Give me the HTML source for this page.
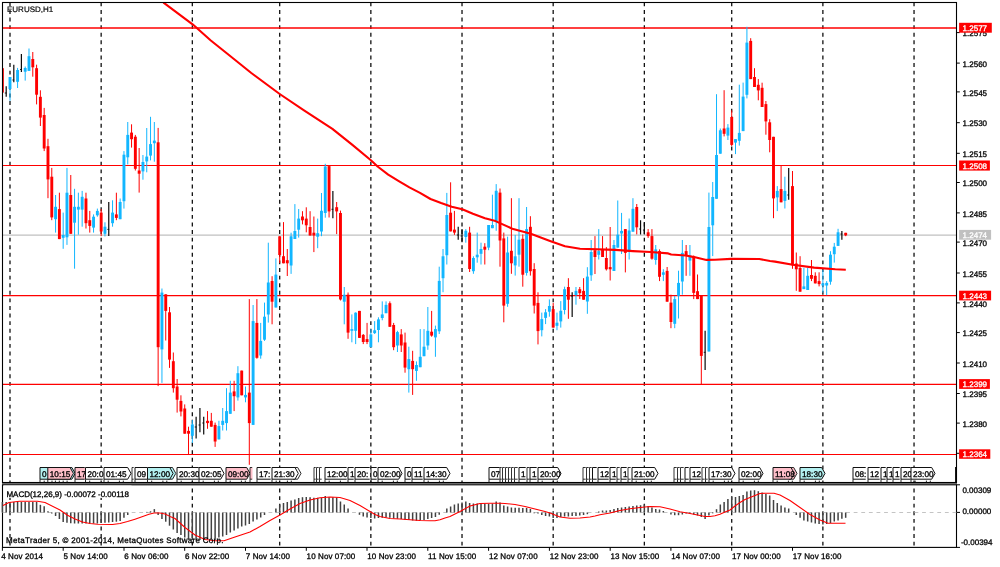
<!DOCTYPE html>
<html><head><meta charset="utf-8"><title>EURUSD,H1</title>
<style>
html,body{margin:0;padding:0;background:#fff;}
body{width:1000px;height:567px;overflow:hidden;position:relative;font-family:"Liberation Sans",sans-serif;}
.t{font-family:"Liberation Sans",sans-serif;text-rendering:geometricPrecision;}
</style></head><body>
<svg width="1000" height="567" viewBox="0 0 1000 567" style="display:block;position:absolute;left:0;top:0;will-change:transform">
<rect x="0" y="0" width="1000" height="567" fill="#fff"/>
<defs><clipPath id="cm"><rect x="2.5" y="2.5" width="954.0" height="480.0"/></clipPath></defs>
<line x1="10.00" y1="2.4" x2="10.00" y2="482.5" stroke="#111" stroke-width="1.3" stroke-dasharray="3.9 3.69" stroke-dashoffset="0"/>
<line x1="10.00" y1="484.8" x2="10.00" y2="547.4" stroke="#111" stroke-width="1.3" stroke-dasharray="3.9 3.69" stroke-dashoffset="3.85"/>
<line x1="101.16" y1="2.4" x2="101.16" y2="482.5" stroke="#111" stroke-width="1.3" stroke-dasharray="3.9 3.69" stroke-dashoffset="0"/>
<line x1="101.16" y1="484.8" x2="101.16" y2="547.4" stroke="#111" stroke-width="1.3" stroke-dasharray="3.9 3.69" stroke-dashoffset="3.85"/>
<line x1="192.33" y1="2.4" x2="192.33" y2="482.5" stroke="#111" stroke-width="1.3" stroke-dasharray="3.9 3.69" stroke-dashoffset="0"/>
<line x1="192.33" y1="484.8" x2="192.33" y2="547.4" stroke="#111" stroke-width="1.3" stroke-dasharray="3.9 3.69" stroke-dashoffset="3.85"/>
<line x1="279.69" y1="2.4" x2="279.69" y2="482.5" stroke="#111" stroke-width="1.3" stroke-dasharray="3.9 3.69" stroke-dashoffset="0"/>
<line x1="279.69" y1="484.8" x2="279.69" y2="547.4" stroke="#111" stroke-width="1.3" stroke-dasharray="3.9 3.69" stroke-dashoffset="3.85"/>
<line x1="370.85" y1="2.4" x2="370.85" y2="482.5" stroke="#111" stroke-width="1.3" stroke-dasharray="3.9 3.69" stroke-dashoffset="0"/>
<line x1="370.85" y1="484.8" x2="370.85" y2="547.4" stroke="#111" stroke-width="1.3" stroke-dasharray="3.9 3.69" stroke-dashoffset="3.85"/>
<line x1="462.02" y1="2.4" x2="462.02" y2="482.5" stroke="#111" stroke-width="1.3" stroke-dasharray="3.9 3.69" stroke-dashoffset="0"/>
<line x1="462.02" y1="484.8" x2="462.02" y2="547.4" stroke="#111" stroke-width="1.3" stroke-dasharray="3.9 3.69" stroke-dashoffset="3.85"/>
<line x1="553.18" y1="2.4" x2="553.18" y2="482.5" stroke="#111" stroke-width="1.3" stroke-dasharray="3.9 3.69" stroke-dashoffset="0"/>
<line x1="553.18" y1="484.8" x2="553.18" y2="547.4" stroke="#111" stroke-width="1.3" stroke-dasharray="3.9 3.69" stroke-dashoffset="3.85"/>
<line x1="644.35" y1="2.4" x2="644.35" y2="482.5" stroke="#111" stroke-width="1.3" stroke-dasharray="3.9 3.69" stroke-dashoffset="0"/>
<line x1="644.35" y1="484.8" x2="644.35" y2="547.4" stroke="#111" stroke-width="1.3" stroke-dasharray="3.9 3.69" stroke-dashoffset="3.85"/>
<line x1="731.71" y1="2.4" x2="731.71" y2="482.5" stroke="#111" stroke-width="1.3" stroke-dasharray="3.9 3.69" stroke-dashoffset="0"/>
<line x1="731.71" y1="484.8" x2="731.71" y2="547.4" stroke="#111" stroke-width="1.3" stroke-dasharray="3.9 3.69" stroke-dashoffset="3.85"/>
<line x1="822.88" y1="2.4" x2="822.88" y2="482.5" stroke="#111" stroke-width="1.3" stroke-dasharray="3.9 3.69" stroke-dashoffset="0"/>
<line x1="822.88" y1="484.8" x2="822.88" y2="547.4" stroke="#111" stroke-width="1.3" stroke-dasharray="3.9 3.69" stroke-dashoffset="3.85"/>
<line x1="914.04" y1="2.4" x2="914.04" y2="482.5" stroke="#111" stroke-width="1.3" stroke-dasharray="3.9 3.69" stroke-dashoffset="0"/>
<line x1="914.04" y1="484.8" x2="914.04" y2="547.4" stroke="#111" stroke-width="1.3" stroke-dasharray="3.9 3.69" stroke-dashoffset="3.85"/>
<line x1="2.5" y1="235.1" x2="956.5" y2="235.1" stroke="#c0c0c0" stroke-width="1.2"/>
<line x1="2.5" y1="28.00" x2="956.5" y2="28.00" stroke="#ff0000" stroke-width="1.30"/>
<line x1="2.5" y1="165.55" x2="956.5" y2="165.55" stroke="#ff0000" stroke-width="1.10"/>
<line x1="2.5" y1="295.60" x2="956.5" y2="295.60" stroke="#ff0000" stroke-width="1.15"/>
<line x1="2.5" y1="384.30" x2="956.5" y2="384.30" stroke="#ff0000" stroke-width="1.15"/>
<line x1="2.5" y1="454.50" x2="956.5" y2="454.50" stroke="#ff0000" stroke-width="1.00"/>
<g clip-path="url(#cm)">
<line x1="2.40" y1="68.2" x2="2.40" y2="92.6" stroke="#ff0000" stroke-width="1.00"/>
<rect x="0.95" y="68.2" width="2.90" height="24.4" fill="#ff0000"/>
<line x1="6.20" y1="86.2" x2="6.20" y2="96.8" stroke="#0a0a0a" stroke-width="1.2"/>
<line x1="4.80" y1="93.0" x2="6.60" y2="93.0" stroke="#0a0a0a" stroke-width="0.9"/>
<line x1="10.00" y1="77.0" x2="10.00" y2="100.8" stroke="#12b6ff" stroke-width="1.00"/>
<rect x="8.55" y="77.0" width="2.90" height="12.0" fill="#12b6ff"/>
<line x1="13.80" y1="64.7" x2="13.80" y2="82.3" stroke="#0a0a0a" stroke-width="1.2"/>
<line x1="12.40" y1="80.0" x2="14.20" y2="80.0" stroke="#0a0a0a" stroke-width="0.9"/>
<line x1="17.59" y1="67.9" x2="17.59" y2="88.0" stroke="#12b6ff" stroke-width="1.00"/>
<rect x="16.14" y="70.0" width="2.90" height="11.8" fill="#12b6ff"/>
<line x1="21.39" y1="54.1" x2="21.39" y2="72.1" stroke="#0a0a0a" stroke-width="1.2"/>
<line x1="19.99" y1="69.5" x2="21.79" y2="69.5" stroke="#0a0a0a" stroke-width="0.9"/>
<line x1="25.19" y1="66.5" x2="25.19" y2="80.6" stroke="#12b6ff" stroke-width="1.00"/>
<rect x="23.74" y="68.0" width="2.90" height="3.7" fill="#12b6ff"/>
<line x1="28.99" y1="48.5" x2="28.99" y2="70.9" stroke="#12b6ff" stroke-width="1.00"/>
<rect x="27.54" y="56.2" width="2.90" height="14.7" fill="#12b6ff"/>
<line x1="32.79" y1="52.0" x2="32.79" y2="76.7" stroke="#ff0000" stroke-width="1.00"/>
<rect x="31.34" y="59.0" width="2.90" height="8.3" fill="#ff0000"/>
<line x1="36.59" y1="64.7" x2="36.59" y2="104.4" stroke="#ff0000" stroke-width="1.00"/>
<rect x="35.14" y="68.2" width="2.90" height="26.5" fill="#ff0000"/>
<line x1="40.38" y1="90.3" x2="40.38" y2="126.0" stroke="#ff0000" stroke-width="1.00"/>
<rect x="38.93" y="96.8" width="2.90" height="20.8" fill="#ff0000"/>
<line x1="44.18" y1="107.9" x2="44.18" y2="151.1" stroke="#ff0000" stroke-width="1.00"/>
<rect x="42.73" y="115.0" width="2.90" height="33.5" fill="#ff0000"/>
<line x1="47.98" y1="138.8" x2="47.98" y2="198.2" stroke="#ff0000" stroke-width="1.00"/>
<rect x="46.53" y="146.2" width="2.90" height="33.2" fill="#ff0000"/>
<line x1="51.78" y1="167.9" x2="51.78" y2="220.2" stroke="#ff0000" stroke-width="1.00"/>
<rect x="50.33" y="176.7" width="2.90" height="40.7" fill="#ff0000"/>
<line x1="55.58" y1="195.0" x2="55.58" y2="232.6" stroke="#12b6ff" stroke-width="1.00"/>
<rect x="54.13" y="206.8" width="2.90" height="12.4" fill="#12b6ff"/>
<line x1="59.38" y1="192.7" x2="59.38" y2="239.1" stroke="#ff0000" stroke-width="1.00"/>
<rect x="57.93" y="209.1" width="2.90" height="30.0" fill="#ff0000"/>
<line x1="63.18" y1="212.6" x2="63.18" y2="248.8" stroke="#12b6ff" stroke-width="1.00"/>
<rect x="61.73" y="235.0" width="2.90" height="2.8" fill="#12b6ff"/>
<line x1="66.97" y1="167.9" x2="66.97" y2="244.9" stroke="#12b6ff" stroke-width="1.00"/>
<rect x="65.52" y="192.7" width="2.90" height="44.6" fill="#12b6ff"/>
<line x1="70.77" y1="175.0" x2="70.77" y2="233.8" stroke="#ff0000" stroke-width="1.00"/>
<rect x="69.32" y="195.0" width="2.90" height="38.8" fill="#ff0000"/>
<line x1="74.57" y1="188.8" x2="74.57" y2="268.7" stroke="#12b6ff" stroke-width="1.00"/>
<rect x="73.12" y="206.8" width="2.90" height="15.9" fill="#12b6ff"/>
<line x1="78.37" y1="192.7" x2="78.37" y2="234.7" stroke="#12b6ff" stroke-width="1.00"/>
<rect x="76.92" y="206.8" width="2.90" height="2.8" fill="#12b6ff"/>
<line x1="82.17" y1="190.9" x2="82.17" y2="226.7" stroke="#12b6ff" stroke-width="1.00"/>
<rect x="80.72" y="196.8" width="2.90" height="12.8" fill="#12b6ff"/>
<line x1="85.97" y1="192.7" x2="85.97" y2="228.5" stroke="#ff0000" stroke-width="1.00"/>
<rect x="84.52" y="198.5" width="2.90" height="24.7" fill="#ff0000"/>
<line x1="89.77" y1="210.9" x2="89.77" y2="232.6" stroke="#ff0000" stroke-width="1.00"/>
<rect x="88.32" y="220.2" width="2.90" height="5.7" fill="#ff0000"/>
<line x1="93.56" y1="214.4" x2="93.56" y2="232.6" stroke="#12b6ff" stroke-width="1.00"/>
<rect x="92.11" y="216.7" width="2.90" height="10.9" fill="#12b6ff"/>
<line x1="97.36" y1="208.6" x2="97.36" y2="216.7" stroke="#12b6ff" stroke-width="1.00"/>
<rect x="95.91" y="210.9" width="2.90" height="4.4" fill="#12b6ff"/>
<line x1="101.16" y1="209.1" x2="101.16" y2="236.1" stroke="#ff0000" stroke-width="1.00"/>
<rect x="99.71" y="212.6" width="2.90" height="18.9" fill="#ff0000"/>
<line x1="104.96" y1="222.3" x2="104.96" y2="236.4" stroke="#12b6ff" stroke-width="1.00"/>
<rect x="103.51" y="226.7" width="2.90" height="7.1" fill="#12b6ff"/>
<line x1="108.76" y1="202.0" x2="108.76" y2="236.1" stroke="#0a0a0a" stroke-width="1.2"/>
<line x1="107.36" y1="229.4" x2="109.16" y2="229.4" stroke="#0a0a0a" stroke-width="0.9"/>
<line x1="112.56" y1="200.3" x2="112.56" y2="226.7" stroke="#12b6ff" stroke-width="1.00"/>
<rect x="111.11" y="212.6" width="2.90" height="10.6" fill="#12b6ff"/>
<line x1="116.36" y1="192.7" x2="116.36" y2="220.2" stroke="#ff0000" stroke-width="1.00"/>
<rect x="114.91" y="214.4" width="2.90" height="3.5" fill="#ff0000"/>
<line x1="120.15" y1="198.5" x2="120.15" y2="219.2" stroke="#12b6ff" stroke-width="1.00"/>
<rect x="118.70" y="202.0" width="2.90" height="17.2" fill="#12b6ff"/>
<line x1="123.95" y1="151.1" x2="123.95" y2="208.6" stroke="#12b6ff" stroke-width="1.00"/>
<rect x="122.50" y="154.7" width="2.90" height="46.5" fill="#12b6ff"/>
<line x1="127.75" y1="122.0" x2="127.75" y2="164.4" stroke="#12b6ff" stroke-width="1.00"/>
<rect x="126.30" y="134.9" width="2.90" height="22.4" fill="#12b6ff"/>
<line x1="131.55" y1="124.3" x2="131.55" y2="147.6" stroke="#ff0000" stroke-width="1.00"/>
<rect x="130.10" y="132.6" width="2.90" height="6.6" fill="#ff0000"/>
<line x1="135.35" y1="134.9" x2="135.35" y2="170.5" stroke="#ff0000" stroke-width="1.00"/>
<rect x="133.90" y="136.7" width="2.90" height="32.1" fill="#ff0000"/>
<line x1="139.15" y1="148.0" x2="139.15" y2="192.6" stroke="#ff0000" stroke-width="1.00"/>
<rect x="137.70" y="170.5" width="2.90" height="3.2" fill="#ff0000"/>
<line x1="142.94" y1="155.0" x2="142.94" y2="179.7" stroke="#12b6ff" stroke-width="1.00"/>
<rect x="141.49" y="162.0" width="2.90" height="9.4" fill="#12b6ff"/>
<line x1="146.74" y1="128.0" x2="146.74" y2="172.3" stroke="#12b6ff" stroke-width="1.00"/>
<rect x="145.29" y="156.6" width="2.90" height="4.8" fill="#12b6ff"/>
<line x1="150.54" y1="116.8" x2="150.54" y2="160.4" stroke="#12b6ff" stroke-width="1.00"/>
<rect x="149.09" y="144.1" width="2.90" height="11.5" fill="#12b6ff"/>
<line x1="154.34" y1="122.0" x2="154.34" y2="161.7" stroke="#12b6ff" stroke-width="1.00"/>
<rect x="152.89" y="140.6" width="2.90" height="2.6" fill="#12b6ff"/>
<line x1="158.14" y1="127.9" x2="158.14" y2="386.1" stroke="#ff0000" stroke-width="1.00"/>
<rect x="156.69" y="142.3" width="2.90" height="204.9" fill="#ff0000"/>
<line x1="161.94" y1="288.5" x2="161.94" y2="382.9" stroke="#12b6ff" stroke-width="1.00"/>
<rect x="160.49" y="292.6" width="2.90" height="56.8" fill="#12b6ff"/>
<line x1="165.74" y1="294.3" x2="165.74" y2="340.5" stroke="#ff0000" stroke-width="1.00"/>
<rect x="164.29" y="294.3" width="2.90" height="16.6" fill="#ff0000"/>
<line x1="169.53" y1="307.0" x2="169.53" y2="367.9" stroke="#ff0000" stroke-width="1.00"/>
<rect x="168.08" y="312.3" width="2.90" height="47.3" fill="#ff0000"/>
<line x1="173.33" y1="352.5" x2="173.33" y2="392.6" stroke="#ff0000" stroke-width="1.00"/>
<rect x="171.88" y="361.2" width="2.90" height="27.0" fill="#ff0000"/>
<line x1="177.13" y1="379.0" x2="177.13" y2="412.6" stroke="#ff0000" stroke-width="1.00"/>
<rect x="175.68" y="386.5" width="2.90" height="13.2" fill="#ff0000"/>
<line x1="180.93" y1="395.3" x2="180.93" y2="416.4" stroke="#ff0000" stroke-width="1.00"/>
<rect x="179.48" y="400.9" width="2.90" height="10.6" fill="#ff0000"/>
<line x1="184.73" y1="404.4" x2="184.73" y2="433.7" stroke="#ff0000" stroke-width="1.00"/>
<rect x="183.28" y="408.5" width="2.90" height="25.2" fill="#ff0000"/>
<line x1="188.53" y1="426.7" x2="188.53" y2="454.4" stroke="#ff0000" stroke-width="1.00"/>
<rect x="187.08" y="430.9" width="2.90" height="2.8" fill="#ff0000"/>
<line x1="192.33" y1="420.0" x2="192.33" y2="442.9" stroke="#12b6ff" stroke-width="1.00"/>
<rect x="190.88" y="424.4" width="2.90" height="11.4" fill="#12b6ff"/>
<line x1="196.12" y1="416.8" x2="196.12" y2="438.5" stroke="#0a0a0a" stroke-width="1.2"/>
<line x1="194.72" y1="427.0" x2="196.52" y2="427.0" stroke="#0a0a0a" stroke-width="0.9"/>
<line x1="199.92" y1="408.0" x2="199.92" y2="432.3" stroke="#0a0a0a" stroke-width="1.2"/>
<line x1="198.52" y1="425.0" x2="200.32" y2="425.0" stroke="#0a0a0a" stroke-width="0.9"/>
<line x1="203.72" y1="416.8" x2="203.72" y2="434.4" stroke="#0a0a0a" stroke-width="1.2"/>
<line x1="202.32" y1="423.0" x2="204.12" y2="423.0" stroke="#0a0a0a" stroke-width="0.9"/>
<line x1="207.52" y1="411.1" x2="207.52" y2="428.8" stroke="#ff0000" stroke-width="1.00"/>
<rect x="206.07" y="420.8" width="2.90" height="2.3" fill="#ff0000"/>
<line x1="211.32" y1="412.9" x2="211.32" y2="426.7" stroke="#ff0000" stroke-width="1.00"/>
<rect x="209.87" y="420.8" width="2.90" height="5.9" fill="#ff0000"/>
<line x1="215.12" y1="422.6" x2="215.12" y2="446.9" stroke="#ff0000" stroke-width="1.00"/>
<rect x="213.67" y="424.9" width="2.90" height="16.6" fill="#ff0000"/>
<line x1="218.91" y1="420.8" x2="218.91" y2="439.4" stroke="#12b6ff" stroke-width="1.00"/>
<rect x="217.46" y="426.1" width="2.90" height="13.3" fill="#12b6ff"/>
<line x1="222.71" y1="408.0" x2="222.71" y2="430.5" stroke="#12b6ff" stroke-width="1.00"/>
<rect x="221.26" y="420.8" width="2.90" height="4.1" fill="#12b6ff"/>
<line x1="226.51" y1="388.2" x2="226.51" y2="430.5" stroke="#12b6ff" stroke-width="1.00"/>
<rect x="225.06" y="411.1" width="2.90" height="12.0" fill="#12b6ff"/>
<line x1="230.31" y1="380.8" x2="230.31" y2="413.8" stroke="#12b6ff" stroke-width="1.00"/>
<rect x="228.86" y="392.6" width="2.90" height="21.2" fill="#12b6ff"/>
<line x1="234.11" y1="380.8" x2="234.11" y2="411.1" stroke="#ff0000" stroke-width="1.00"/>
<rect x="232.66" y="391.4" width="2.90" height="4.8" fill="#ff0000"/>
<line x1="237.91" y1="366.2" x2="237.91" y2="400.6" stroke="#12b6ff" stroke-width="1.00"/>
<rect x="236.46" y="373.2" width="2.90" height="24.2" fill="#12b6ff"/>
<line x1="241.71" y1="370.6" x2="241.71" y2="395.3" stroke="#ff0000" stroke-width="1.00"/>
<rect x="240.26" y="370.6" width="2.90" height="24.7" fill="#ff0000"/>
<line x1="245.50" y1="386.5" x2="245.50" y2="402.3" stroke="#12b6ff" stroke-width="1.00"/>
<rect x="244.05" y="394.9" width="2.90" height="2.5" fill="#12b6ff"/>
<line x1="249.30" y1="299.1" x2="249.30" y2="464.8" stroke="#ff0000" stroke-width="1.00"/>
<rect x="247.85" y="392.6" width="2.90" height="30.5" fill="#ff0000"/>
<line x1="253.10" y1="305.0" x2="253.10" y2="424.9" stroke="#12b6ff" stroke-width="1.00"/>
<rect x="251.65" y="321.1" width="2.90" height="103.8" fill="#12b6ff"/>
<line x1="256.90" y1="299.1" x2="256.90" y2="358.7" stroke="#ff0000" stroke-width="1.00"/>
<rect x="255.45" y="322.9" width="2.90" height="34.9" fill="#ff0000"/>
<line x1="260.70" y1="322.9" x2="260.70" y2="358.7" stroke="#12b6ff" stroke-width="1.00"/>
<rect x="259.25" y="340.9" width="2.90" height="14.6" fill="#12b6ff"/>
<line x1="264.50" y1="302.6" x2="264.50" y2="340.9" stroke="#12b6ff" stroke-width="1.00"/>
<rect x="263.05" y="316.7" width="2.90" height="23.0" fill="#12b6ff"/>
<line x1="268.30" y1="242.7" x2="268.30" y2="322.6" stroke="#12b6ff" stroke-width="1.00"/>
<rect x="266.85" y="282.5" width="2.90" height="32.0" fill="#12b6ff"/>
<line x1="272.09" y1="276.2" x2="272.09" y2="324.3" stroke="#ff0000" stroke-width="1.00"/>
<rect x="270.64" y="281.0" width="2.90" height="20.7" fill="#ff0000"/>
<line x1="275.89" y1="258.4" x2="275.89" y2="307.5" stroke="#12b6ff" stroke-width="1.00"/>
<rect x="274.44" y="274.6" width="2.90" height="32.9" fill="#12b6ff"/>
<line x1="279.69" y1="236.2" x2="279.69" y2="263.0" stroke="#ff0000" stroke-width="1.00"/>
<rect x="278.24" y="236.3" width="2.90" height="18.7" fill="#ff0000"/>
<line x1="283.49" y1="222.1" x2="283.49" y2="263.3" stroke="#ff0000" stroke-width="1.00"/>
<rect x="282.04" y="256.2" width="2.90" height="7.1" fill="#ff0000"/>
<line x1="287.29" y1="249.0" x2="287.29" y2="276.0" stroke="#ff0000" stroke-width="1.00"/>
<rect x="285.84" y="260.2" width="2.90" height="3.1" fill="#ff0000"/>
<line x1="291.09" y1="232.7" x2="291.09" y2="273.9" stroke="#12b6ff" stroke-width="1.00"/>
<rect x="289.64" y="236.3" width="2.90" height="29.2" fill="#12b6ff"/>
<line x1="294.88" y1="204.1" x2="294.88" y2="239.0" stroke="#12b6ff" stroke-width="1.00"/>
<rect x="293.43" y="231.0" width="2.90" height="8.0" fill="#12b6ff"/>
<line x1="298.68" y1="209.0" x2="298.68" y2="237.6" stroke="#12b6ff" stroke-width="1.00"/>
<rect x="297.23" y="218.6" width="2.90" height="11.1" fill="#12b6ff"/>
<line x1="302.48" y1="211.2" x2="302.48" y2="224.4" stroke="#ff0000" stroke-width="1.00"/>
<rect x="301.03" y="216.5" width="2.90" height="3.8" fill="#ff0000"/>
<line x1="306.28" y1="207.3" x2="306.28" y2="232.3" stroke="#ff0000" stroke-width="1.00"/>
<rect x="304.83" y="218.6" width="2.90" height="6.7" fill="#ff0000"/>
<line x1="310.08" y1="211.2" x2="310.08" y2="235.5" stroke="#ff0000" stroke-width="1.00"/>
<rect x="308.63" y="227.0" width="2.90" height="8.5" fill="#ff0000"/>
<line x1="313.88" y1="216.5" x2="313.88" y2="252.1" stroke="#ff0000" stroke-width="1.00"/>
<rect x="312.43" y="232.7" width="2.90" height="2.8" fill="#ff0000"/>
<line x1="317.68" y1="218.6" x2="317.68" y2="248.2" stroke="#12b6ff" stroke-width="1.00"/>
<rect x="316.23" y="233.2" width="2.90" height="3.5" fill="#12b6ff"/>
<line x1="321.47" y1="193.0" x2="321.47" y2="236.2" stroke="#12b6ff" stroke-width="1.00"/>
<rect x="320.02" y="210.8" width="2.90" height="20.7" fill="#12b6ff"/>
<line x1="325.27" y1="163.8" x2="325.27" y2="217.7" stroke="#12b6ff" stroke-width="1.00"/>
<rect x="323.82" y="166.5" width="2.90" height="46.5" fill="#12b6ff"/>
<line x1="329.07" y1="166.1" x2="329.07" y2="217.5" stroke="#ff0000" stroke-width="1.00"/>
<rect x="327.62" y="166.1" width="2.90" height="45.3" fill="#ff0000"/>
<line x1="332.87" y1="191.0" x2="332.87" y2="218.2" stroke="#0a0a0a" stroke-width="1.2"/>
<line x1="331.47" y1="209.3" x2="333.27" y2="209.3" stroke="#0a0a0a" stroke-width="0.9"/>
<line x1="336.67" y1="202.0" x2="336.67" y2="234.1" stroke="#ff0000" stroke-width="1.00"/>
<rect x="335.22" y="207.2" width="2.90" height="4.2" fill="#ff0000"/>
<line x1="340.47" y1="210.6" x2="340.47" y2="300.5" stroke="#ff0000" stroke-width="1.00"/>
<rect x="339.02" y="213.0" width="2.90" height="86.5" fill="#ff0000"/>
<line x1="344.26" y1="287.0" x2="344.26" y2="324.3" stroke="#12b6ff" stroke-width="1.00"/>
<rect x="342.81" y="294.7" width="2.90" height="7.0" fill="#12b6ff"/>
<line x1="348.06" y1="292.5" x2="348.06" y2="338.8" stroke="#ff0000" stroke-width="1.00"/>
<rect x="346.61" y="294.7" width="2.90" height="37.9" fill="#ff0000"/>
<line x1="351.86" y1="314.4" x2="351.86" y2="342.3" stroke="#12b6ff" stroke-width="1.00"/>
<rect x="350.41" y="329.1" width="2.90" height="1.7" fill="#12b6ff"/>
<line x1="355.66" y1="312.3" x2="355.66" y2="344.1" stroke="#12b6ff" stroke-width="1.00"/>
<rect x="354.21" y="312.7" width="2.90" height="18.1" fill="#12b6ff"/>
<line x1="359.46" y1="310.9" x2="359.46" y2="337.9" stroke="#ff0000" stroke-width="1.00"/>
<rect x="358.01" y="310.9" width="2.90" height="27.0" fill="#ff0000"/>
<line x1="363.26" y1="334.0" x2="363.26" y2="344.1" stroke="#ff0000" stroke-width="1.00"/>
<rect x="361.81" y="334.9" width="2.90" height="7.1" fill="#ff0000"/>
<line x1="367.06" y1="322.9" x2="367.06" y2="344.1" stroke="#ff0000" stroke-width="1.00"/>
<rect x="365.61" y="339.1" width="2.90" height="2.9" fill="#ff0000"/>
<line x1="370.85" y1="329.1" x2="370.85" y2="347.2" stroke="#12b6ff" stroke-width="1.00"/>
<rect x="369.40" y="334.4" width="2.90" height="12.8" fill="#12b6ff"/>
<line x1="374.65" y1="321.1" x2="374.65" y2="334.0" stroke="#12b6ff" stroke-width="1.00"/>
<rect x="373.20" y="330.3" width="2.90" height="2.8" fill="#12b6ff"/>
<line x1="378.45" y1="317.3" x2="378.45" y2="342.3" stroke="#12b6ff" stroke-width="1.00"/>
<rect x="377.00" y="319.4" width="2.90" height="10.6" fill="#12b6ff"/>
<line x1="382.25" y1="301.4" x2="382.25" y2="320.3" stroke="#12b6ff" stroke-width="1.00"/>
<rect x="380.80" y="314.4" width="2.90" height="3.6" fill="#12b6ff"/>
<line x1="386.05" y1="301.4" x2="386.05" y2="313.2" stroke="#12b6ff" stroke-width="1.00"/>
<rect x="384.60" y="304.9" width="2.90" height="8.3" fill="#12b6ff"/>
<line x1="389.85" y1="301.4" x2="389.85" y2="326.8" stroke="#ff0000" stroke-width="1.00"/>
<rect x="388.40" y="303.2" width="2.90" height="23.6" fill="#ff0000"/>
<line x1="393.65" y1="322.9" x2="393.65" y2="350.2" stroke="#ff0000" stroke-width="1.00"/>
<rect x="392.20" y="325.0" width="2.90" height="22.2" fill="#ff0000"/>
<line x1="397.44" y1="330.8" x2="397.44" y2="352.0" stroke="#12b6ff" stroke-width="1.00"/>
<rect x="395.99" y="332.1" width="2.90" height="13.4" fill="#12b6ff"/>
<line x1="401.24" y1="329.1" x2="401.24" y2="352.0" stroke="#ff0000" stroke-width="1.00"/>
<rect x="399.79" y="334.4" width="2.90" height="11.1" fill="#ff0000"/>
<line x1="405.04" y1="332.6" x2="405.04" y2="372.7" stroke="#ff0000" stroke-width="1.00"/>
<rect x="403.59" y="342.5" width="2.90" height="25.1" fill="#ff0000"/>
<line x1="408.84" y1="346.7" x2="408.84" y2="392.6" stroke="#12b6ff" stroke-width="1.00"/>
<rect x="407.39" y="359.1" width="2.90" height="10.1" fill="#12b6ff"/>
<line x1="412.64" y1="350.8" x2="412.64" y2="394.9" stroke="#ff0000" stroke-width="1.00"/>
<rect x="411.19" y="360.9" width="2.90" height="8.3" fill="#ff0000"/>
<line x1="416.44" y1="361.4" x2="416.44" y2="380.8" stroke="#12b6ff" stroke-width="1.00"/>
<rect x="414.99" y="365.0" width="2.90" height="5.9" fill="#12b6ff"/>
<line x1="420.24" y1="329.1" x2="420.24" y2="367.2" stroke="#12b6ff" stroke-width="1.00"/>
<rect x="418.79" y="356.8" width="2.90" height="10.4" fill="#12b6ff"/>
<line x1="424.03" y1="329.1" x2="424.03" y2="356.2" stroke="#12b6ff" stroke-width="1.00"/>
<rect x="422.58" y="346.7" width="2.90" height="9.5" fill="#12b6ff"/>
<line x1="427.83" y1="307.0" x2="427.83" y2="349.8" stroke="#12b6ff" stroke-width="1.00"/>
<rect x="426.38" y="330.8" width="2.90" height="14.7" fill="#12b6ff"/>
<line x1="431.63" y1="310.9" x2="431.63" y2="336.7" stroke="#ff0000" stroke-width="1.00"/>
<rect x="430.18" y="331.7" width="2.90" height="3.9" fill="#ff0000"/>
<line x1="435.43" y1="325.6" x2="435.43" y2="356.8" stroke="#12b6ff" stroke-width="1.00"/>
<rect x="433.98" y="329.1" width="2.90" height="8.3" fill="#12b6ff"/>
<line x1="439.23" y1="266.7" x2="439.23" y2="334.0" stroke="#12b6ff" stroke-width="1.00"/>
<rect x="437.78" y="280.9" width="2.90" height="50.4" fill="#12b6ff"/>
<line x1="443.03" y1="249.0" x2="443.03" y2="292.2" stroke="#12b6ff" stroke-width="1.00"/>
<rect x="441.58" y="256.3" width="2.90" height="21.9" fill="#12b6ff"/>
<line x1="446.82" y1="192.9" x2="446.82" y2="264.5" stroke="#12b6ff" stroke-width="1.00"/>
<rect x="445.37" y="215.0" width="2.90" height="40.2" fill="#12b6ff"/>
<line x1="450.62" y1="182.3" x2="450.62" y2="231.4" stroke="#ff0000" stroke-width="1.00"/>
<rect x="449.17" y="212.7" width="2.90" height="18.7" fill="#ff0000"/>
<line x1="454.42" y1="210.9" x2="454.42" y2="234.9" stroke="#ff0000" stroke-width="1.00"/>
<rect x="452.97" y="229.6" width="2.90" height="3.0" fill="#ff0000"/>
<line x1="458.22" y1="226.8" x2="458.22" y2="239.7" stroke="#0a0a0a" stroke-width="1.2"/>
<line x1="456.82" y1="235.0" x2="458.62" y2="235.0" stroke="#0a0a0a" stroke-width="0.9"/>
<line x1="462.02" y1="229.1" x2="462.02" y2="242.3" stroke="#0a0a0a" stroke-width="1.2"/>
<line x1="460.62" y1="236.0" x2="462.42" y2="236.0" stroke="#0a0a0a" stroke-width="0.9"/>
<line x1="465.82" y1="229.1" x2="465.82" y2="242.7" stroke="#12b6ff" stroke-width="1.00"/>
<rect x="464.37" y="230.8" width="2.90" height="6.2" fill="#12b6ff"/>
<line x1="469.62" y1="226.8" x2="469.62" y2="272.0" stroke="#ff0000" stroke-width="1.00"/>
<rect x="468.17" y="232.6" width="2.90" height="36.4" fill="#ff0000"/>
<line x1="473.41" y1="256.3" x2="473.41" y2="273.8" stroke="#12b6ff" stroke-width="1.00"/>
<rect x="471.96" y="258.0" width="2.90" height="13.2" fill="#12b6ff"/>
<line x1="477.21" y1="232.6" x2="477.21" y2="262.7" stroke="#12b6ff" stroke-width="1.00"/>
<rect x="475.76" y="254.7" width="2.90" height="2.6" fill="#12b6ff"/>
<line x1="481.01" y1="242.7" x2="481.01" y2="264.5" stroke="#12b6ff" stroke-width="1.00"/>
<rect x="479.56" y="249.0" width="2.90" height="4.8" fill="#12b6ff"/>
<line x1="484.81" y1="243.2" x2="484.81" y2="264.5" stroke="#ff0000" stroke-width="1.00"/>
<rect x="483.36" y="246.7" width="2.90" height="3.0" fill="#ff0000"/>
<line x1="488.61" y1="225.0" x2="488.61" y2="250.2" stroke="#12b6ff" stroke-width="1.00"/>
<rect x="487.16" y="225.0" width="2.90" height="22.6" fill="#12b6ff"/>
<line x1="492.41" y1="194.7" x2="492.41" y2="228.2" stroke="#12b6ff" stroke-width="1.00"/>
<rect x="490.96" y="225.0" width="2.90" height="3.2" fill="#12b6ff"/>
<line x1="496.20" y1="184.1" x2="496.20" y2="230.8" stroke="#12b6ff" stroke-width="1.00"/>
<rect x="494.75" y="190.8" width="2.90" height="31.2" fill="#12b6ff"/>
<line x1="500.00" y1="188.5" x2="500.00" y2="266.7" stroke="#ff0000" stroke-width="1.00"/>
<rect x="498.55" y="192.6" width="2.90" height="47.9" fill="#ff0000"/>
<line x1="503.80" y1="232.6" x2="503.80" y2="322.3" stroke="#ff0000" stroke-width="1.00"/>
<rect x="502.35" y="238.4" width="2.90" height="67.2" fill="#ff0000"/>
<line x1="507.60" y1="236.7" x2="507.60" y2="306.8" stroke="#12b6ff" stroke-width="1.00"/>
<rect x="506.15" y="252.5" width="2.90" height="51.3" fill="#12b6ff"/>
<line x1="511.40" y1="198.2" x2="511.40" y2="273.8" stroke="#ff0000" stroke-width="1.00"/>
<rect x="509.95" y="250.8" width="2.90" height="12.5" fill="#ff0000"/>
<line x1="515.20" y1="234.9" x2="515.20" y2="275.6" stroke="#12b6ff" stroke-width="1.00"/>
<rect x="513.75" y="256.3" width="2.90" height="9.1" fill="#12b6ff"/>
<line x1="519.00" y1="198.2" x2="519.00" y2="266.7" stroke="#12b6ff" stroke-width="1.00"/>
<rect x="517.55" y="239.7" width="2.90" height="15.0" fill="#12b6ff"/>
<line x1="522.79" y1="234.4" x2="522.79" y2="286.7" stroke="#ff0000" stroke-width="1.00"/>
<rect x="521.34" y="238.8" width="2.90" height="35.9" fill="#ff0000"/>
<line x1="526.59" y1="207.0" x2="526.59" y2="275.6" stroke="#12b6ff" stroke-width="1.00"/>
<rect x="525.14" y="229.1" width="2.90" height="43.8" fill="#12b6ff"/>
<line x1="530.39" y1="216.2" x2="530.39" y2="275.6" stroke="#ff0000" stroke-width="1.00"/>
<rect x="528.94" y="226.8" width="2.90" height="44.4" fill="#ff0000"/>
<line x1="534.19" y1="263.2" x2="534.19" y2="313.5" stroke="#ff0000" stroke-width="1.00"/>
<rect x="532.74" y="269.0" width="2.90" height="36.6" fill="#ff0000"/>
<line x1="537.99" y1="292.3" x2="537.99" y2="344.4" stroke="#ff0000" stroke-width="1.00"/>
<rect x="536.54" y="302.9" width="2.90" height="28.2" fill="#ff0000"/>
<line x1="541.79" y1="312.6" x2="541.79" y2="336.4" stroke="#12b6ff" stroke-width="1.00"/>
<rect x="540.34" y="319.1" width="2.90" height="11.1" fill="#12b6ff"/>
<line x1="545.59" y1="309.1" x2="545.59" y2="324.1" stroke="#12b6ff" stroke-width="1.00"/>
<rect x="544.14" y="312.3" width="2.90" height="5.6" fill="#12b6ff"/>
<line x1="549.38" y1="299.4" x2="549.38" y2="316.7" stroke="#12b6ff" stroke-width="1.00"/>
<rect x="547.93" y="306.0" width="2.90" height="5.7" fill="#12b6ff"/>
<line x1="553.18" y1="302.9" x2="553.18" y2="327.6" stroke="#ff0000" stroke-width="1.00"/>
<rect x="551.73" y="309.1" width="2.90" height="18.5" fill="#ff0000"/>
<line x1="556.98" y1="312.6" x2="556.98" y2="330.2" stroke="#12b6ff" stroke-width="1.00"/>
<rect x="555.53" y="322.7" width="2.90" height="3.1" fill="#12b6ff"/>
<line x1="560.78" y1="301.1" x2="560.78" y2="327.6" stroke="#12b6ff" stroke-width="1.00"/>
<rect x="559.33" y="310.8" width="2.90" height="10.6" fill="#12b6ff"/>
<line x1="564.58" y1="286.7" x2="564.58" y2="314.4" stroke="#12b6ff" stroke-width="1.00"/>
<rect x="563.13" y="289.2" width="2.90" height="20.8" fill="#12b6ff"/>
<line x1="568.38" y1="278.2" x2="568.38" y2="318.8" stroke="#ff0000" stroke-width="1.00"/>
<rect x="566.93" y="287.0" width="2.90" height="12.7" fill="#ff0000"/>
<line x1="572.17" y1="292.3" x2="572.17" y2="317.0" stroke="#0a0a0a" stroke-width="1.2"/>
<line x1="570.77" y1="296.0" x2="572.57" y2="296.0" stroke="#0a0a0a" stroke-width="0.9"/>
<line x1="575.97" y1="287.0" x2="575.97" y2="304.7" stroke="#12b6ff" stroke-width="1.00"/>
<rect x="574.52" y="290.9" width="2.90" height="4.1" fill="#12b6ff"/>
<line x1="579.77" y1="287.0" x2="579.77" y2="299.0" stroke="#ff0000" stroke-width="1.00"/>
<rect x="578.32" y="289.2" width="2.90" height="4.0" fill="#ff0000"/>
<line x1="583.57" y1="278.2" x2="583.57" y2="299.7" stroke="#ff0000" stroke-width="1.00"/>
<rect x="582.12" y="290.9" width="2.90" height="8.8" fill="#ff0000"/>
<line x1="587.37" y1="267.2" x2="587.37" y2="313.8" stroke="#12b6ff" stroke-width="1.00"/>
<rect x="585.92" y="276.6" width="2.90" height="24.9" fill="#12b6ff"/>
<line x1="591.17" y1="240.0" x2="591.17" y2="280.9" stroke="#12b6ff" stroke-width="1.00"/>
<rect x="589.72" y="252.0" width="2.90" height="23.3" fill="#12b6ff"/>
<line x1="594.97" y1="236.1" x2="594.97" y2="274.0" stroke="#ff0000" stroke-width="1.00"/>
<rect x="593.52" y="250.3" width="2.90" height="6.7" fill="#ff0000"/>
<line x1="598.76" y1="229.1" x2="598.76" y2="259.5" stroke="#12b6ff" stroke-width="1.00"/>
<rect x="597.31" y="251.1" width="2.90" height="3.7" fill="#12b6ff"/>
<line x1="602.56" y1="236.1" x2="602.56" y2="257.0" stroke="#ff0000" stroke-width="1.00"/>
<rect x="601.11" y="249.4" width="2.90" height="7.6" fill="#ff0000"/>
<line x1="606.36" y1="247.1" x2="606.36" y2="270.5" stroke="#ff0000" stroke-width="1.00"/>
<rect x="604.91" y="258.0" width="2.90" height="11.3" fill="#ff0000"/>
<line x1="610.16" y1="227.0" x2="610.16" y2="280.5" stroke="#ff0000" stroke-width="1.00"/>
<rect x="608.71" y="267.1" width="2.90" height="2.2" fill="#ff0000"/>
<line x1="613.96" y1="240.0" x2="613.96" y2="271.0" stroke="#12b6ff" stroke-width="1.00"/>
<rect x="612.51" y="245.0" width="2.90" height="26.0" fill="#12b6ff"/>
<line x1="617.76" y1="200.5" x2="617.76" y2="247.6" stroke="#12b6ff" stroke-width="1.00"/>
<rect x="616.31" y="234.7" width="2.90" height="12.9" fill="#12b6ff"/>
<line x1="621.56" y1="212.9" x2="621.56" y2="254.0" stroke="#12b6ff" stroke-width="1.00"/>
<rect x="620.11" y="230.9" width="2.90" height="2.6" fill="#12b6ff"/>
<line x1="625.35" y1="229.1" x2="625.35" y2="272.4" stroke="#ff0000" stroke-width="1.00"/>
<rect x="623.90" y="229.1" width="2.90" height="23.8" fill="#ff0000"/>
<line x1="629.15" y1="218.5" x2="629.15" y2="259.5" stroke="#12b6ff" stroke-width="1.00"/>
<rect x="627.70" y="230.5" width="2.90" height="21.5" fill="#12b6ff"/>
<line x1="632.95" y1="198.2" x2="632.95" y2="231.7" stroke="#12b6ff" stroke-width="1.00"/>
<rect x="631.50" y="208.8" width="2.90" height="22.9" fill="#12b6ff"/>
<line x1="636.75" y1="204.0" x2="636.75" y2="234.4" stroke="#ff0000" stroke-width="1.00"/>
<rect x="635.30" y="207.0" width="2.90" height="20.3" fill="#ff0000"/>
<line x1="640.55" y1="220.3" x2="640.55" y2="234.4" stroke="#0a0a0a" stroke-width="1.2"/>
<line x1="639.15" y1="229.0" x2="640.95" y2="229.0" stroke="#0a0a0a" stroke-width="0.9"/>
<line x1="644.35" y1="222.0" x2="644.35" y2="234.4" stroke="#0a0a0a" stroke-width="1.2"/>
<line x1="642.95" y1="230.0" x2="644.75" y2="230.0" stroke="#0a0a0a" stroke-width="0.9"/>
<line x1="648.14" y1="229.1" x2="648.14" y2="237.9" stroke="#ff0000" stroke-width="1.00"/>
<rect x="646.69" y="232.3" width="2.90" height="3.8" fill="#ff0000"/>
<line x1="651.94" y1="229.1" x2="651.94" y2="259.7" stroke="#ff0000" stroke-width="1.00"/>
<rect x="650.49" y="236.1" width="2.90" height="22.6" fill="#ff0000"/>
<line x1="655.74" y1="245.0" x2="655.74" y2="264.7" stroke="#12b6ff" stroke-width="1.00"/>
<rect x="654.29" y="249.4" width="2.90" height="10.6" fill="#12b6ff"/>
<line x1="659.54" y1="249.4" x2="659.54" y2="281.1" stroke="#ff0000" stroke-width="1.00"/>
<rect x="658.09" y="251.1" width="2.90" height="25.7" fill="#ff0000"/>
<line x1="663.34" y1="269.2" x2="663.34" y2="281.1" stroke="#12b6ff" stroke-width="1.00"/>
<rect x="661.89" y="272.3" width="2.90" height="2.5" fill="#12b6ff"/>
<line x1="667.14" y1="267.0" x2="667.14" y2="301.7" stroke="#ff0000" stroke-width="1.00"/>
<rect x="665.69" y="270.9" width="2.90" height="30.8" fill="#ff0000"/>
<line x1="670.94" y1="294.7" x2="670.94" y2="328.2" stroke="#ff0000" stroke-width="1.00"/>
<rect x="669.49" y="302.6" width="2.90" height="19.4" fill="#ff0000"/>
<line x1="674.73" y1="295.9" x2="674.73" y2="328.2" stroke="#12b6ff" stroke-width="1.00"/>
<rect x="673.28" y="299.1" width="2.90" height="24.7" fill="#12b6ff"/>
<line x1="678.53" y1="270.7" x2="678.53" y2="318.5" stroke="#12b6ff" stroke-width="1.00"/>
<rect x="677.08" y="282.9" width="2.90" height="13.0" fill="#12b6ff"/>
<line x1="682.33" y1="240.0" x2="682.33" y2="294.7" stroke="#12b6ff" stroke-width="1.00"/>
<rect x="680.88" y="252.9" width="2.90" height="28.6" fill="#12b6ff"/>
<line x1="686.13" y1="245.0" x2="686.13" y2="275.8" stroke="#ff0000" stroke-width="1.00"/>
<rect x="684.68" y="251.1" width="2.90" height="4.4" fill="#ff0000"/>
<line x1="689.93" y1="245.0" x2="689.93" y2="275.8" stroke="#12b6ff" stroke-width="1.00"/>
<rect x="688.48" y="255.5" width="2.90" height="5.1" fill="#12b6ff"/>
<line x1="693.73" y1="255.5" x2="693.73" y2="299.1" stroke="#ff0000" stroke-width="1.00"/>
<rect x="692.28" y="256.9" width="2.90" height="36.0" fill="#ff0000"/>
<line x1="697.53" y1="274.5" x2="697.53" y2="299.1" stroke="#ff0000" stroke-width="1.00"/>
<rect x="696.08" y="291.2" width="2.90" height="7.9" fill="#ff0000"/>
<line x1="701.32" y1="295.0" x2="701.32" y2="384.1" stroke="#ff0000" stroke-width="1.00"/>
<rect x="699.87" y="295.9" width="2.90" height="60.0" fill="#ff0000"/>
<line x1="705.12" y1="330.8" x2="705.12" y2="370.0" stroke="#0a0a0a" stroke-width="1.2"/>
<line x1="703.72" y1="352.3" x2="705.52" y2="352.3" stroke="#0a0a0a" stroke-width="0.9"/>
<line x1="708.92" y1="192.6" x2="708.92" y2="351.5" stroke="#12b6ff" stroke-width="1.00"/>
<rect x="707.47" y="227.0" width="2.90" height="124.5" fill="#12b6ff"/>
<line x1="712.72" y1="182.0" x2="712.72" y2="256.1" stroke="#12b6ff" stroke-width="1.00"/>
<rect x="711.27" y="197.0" width="2.90" height="28.3" fill="#12b6ff"/>
<line x1="716.52" y1="94.2" x2="716.52" y2="198.8" stroke="#12b6ff" stroke-width="1.00"/>
<rect x="715.07" y="155.0" width="2.90" height="43.8" fill="#12b6ff"/>
<line x1="720.32" y1="128.5" x2="720.32" y2="153.7" stroke="#12b6ff" stroke-width="1.00"/>
<rect x="718.87" y="130.3" width="2.90" height="23.4" fill="#12b6ff"/>
<line x1="724.12" y1="90.2" x2="724.12" y2="136.4" stroke="#ff0000" stroke-width="1.00"/>
<rect x="722.66" y="128.5" width="2.90" height="5.3" fill="#ff0000"/>
<line x1="727.91" y1="124.1" x2="727.91" y2="140.0" stroke="#12b6ff" stroke-width="1.00"/>
<rect x="726.46" y="127.6" width="2.90" height="8.0" fill="#12b6ff"/>
<line x1="731.71" y1="110.3" x2="731.71" y2="146.0" stroke="#ff0000" stroke-width="1.00"/>
<rect x="730.26" y="117.0" width="2.90" height="27.9" fill="#ff0000"/>
<line x1="735.51" y1="139.1" x2="735.51" y2="154.1" stroke="#12b6ff" stroke-width="1.00"/>
<rect x="734.06" y="139.1" width="2.90" height="3.5" fill="#12b6ff"/>
<line x1="739.31" y1="84.7" x2="739.31" y2="145.6" stroke="#12b6ff" stroke-width="1.00"/>
<rect x="737.86" y="132.9" width="2.90" height="7.9" fill="#12b6ff"/>
<line x1="743.11" y1="82.6" x2="743.11" y2="131.1" stroke="#12b6ff" stroke-width="1.00"/>
<rect x="741.66" y="96.6" width="2.90" height="34.5" fill="#12b6ff"/>
<line x1="746.91" y1="26.8" x2="746.91" y2="98.4" stroke="#12b6ff" stroke-width="1.00"/>
<rect x="745.46" y="42.6" width="2.90" height="52.2" fill="#12b6ff"/>
<line x1="750.70" y1="38.2" x2="750.70" y2="79.1" stroke="#ff0000" stroke-width="1.00"/>
<rect x="749.25" y="40.9" width="2.90" height="38.2" fill="#ff0000"/>
<line x1="754.50" y1="68.2" x2="754.50" y2="87.0" stroke="#ff0000" stroke-width="1.00"/>
<rect x="753.05" y="77.0" width="2.90" height="10.0" fill="#ff0000"/>
<line x1="758.30" y1="79.1" x2="758.30" y2="100.3" stroke="#ff0000" stroke-width="1.00"/>
<rect x="756.85" y="84.8" width="2.90" height="5.6" fill="#ff0000"/>
<line x1="762.10" y1="82.7" x2="762.10" y2="107.0" stroke="#ff0000" stroke-width="1.00"/>
<rect x="760.65" y="87.8" width="2.90" height="19.2" fill="#ff0000"/>
<line x1="765.90" y1="101.0" x2="765.90" y2="134.7" stroke="#ff0000" stroke-width="1.00"/>
<rect x="764.45" y="104.1" width="2.90" height="17.3" fill="#ff0000"/>
<line x1="769.70" y1="119.2" x2="769.70" y2="152.3" stroke="#ff0000" stroke-width="1.00"/>
<rect x="768.25" y="122.3" width="2.90" height="17.7" fill="#ff0000"/>
<line x1="773.50" y1="136.8" x2="773.50" y2="218.2" stroke="#ff0000" stroke-width="1.00"/>
<rect x="772.05" y="136.8" width="2.90" height="61.6" fill="#ff0000"/>
<line x1="777.29" y1="186.1" x2="777.29" y2="211.1" stroke="#12b6ff" stroke-width="1.00"/>
<rect x="775.84" y="190.9" width="2.90" height="6.5" fill="#12b6ff"/>
<line x1="781.09" y1="165.8" x2="781.09" y2="202.3" stroke="#ff0000" stroke-width="1.00"/>
<rect x="779.64" y="189.1" width="2.90" height="13.2" fill="#ff0000"/>
<line x1="784.89" y1="176.7" x2="784.89" y2="208.5" stroke="#12b6ff" stroke-width="1.00"/>
<rect x="783.44" y="190.9" width="2.90" height="10.0" fill="#12b6ff"/>
<line x1="788.69" y1="168.0" x2="788.69" y2="199.7" stroke="#0a0a0a" stroke-width="1.2"/>
<line x1="787.29" y1="195.0" x2="789.09" y2="195.0" stroke="#0a0a0a" stroke-width="0.9"/>
<line x1="792.49" y1="171.0" x2="792.49" y2="268.8" stroke="#ff0000" stroke-width="1.00"/>
<rect x="791.04" y="186.1" width="2.90" height="79.2" fill="#ff0000"/>
<line x1="796.29" y1="252.5" x2="796.29" y2="290.8" stroke="#ff0000" stroke-width="1.00"/>
<rect x="794.84" y="263.5" width="2.90" height="5.8" fill="#ff0000"/>
<line x1="800.09" y1="256.2" x2="800.09" y2="291.7" stroke="#ff0000" stroke-width="1.00"/>
<rect x="798.63" y="267.9" width="2.90" height="23.8" fill="#ff0000"/>
<line x1="803.88" y1="267.9" x2="803.88" y2="289.1" stroke="#12b6ff" stroke-width="1.00"/>
<rect x="802.43" y="286.4" width="2.90" height="2.7" fill="#12b6ff"/>
<line x1="807.68" y1="267.9" x2="807.68" y2="290.0" stroke="#12b6ff" stroke-width="1.00"/>
<rect x="806.23" y="275.8" width="2.90" height="14.2" fill="#12b6ff"/>
<line x1="811.48" y1="260.0" x2="811.48" y2="281.1" stroke="#ff0000" stroke-width="1.00"/>
<rect x="810.03" y="275.0" width="2.90" height="3.8" fill="#ff0000"/>
<line x1="815.28" y1="272.3" x2="815.28" y2="283.4" stroke="#ff0000" stroke-width="1.00"/>
<rect x="813.83" y="275.8" width="2.90" height="7.6" fill="#ff0000"/>
<line x1="819.08" y1="272.3" x2="819.08" y2="286.4" stroke="#ff0000" stroke-width="1.00"/>
<rect x="817.63" y="281.1" width="2.90" height="3.0" fill="#ff0000"/>
<line x1="822.88" y1="269.7" x2="822.88" y2="292.6" stroke="#12b6ff" stroke-width="1.00"/>
<rect x="821.43" y="283.4" width="2.90" height="2.1" fill="#12b6ff"/>
<line x1="826.67" y1="281.1" x2="826.67" y2="295.2" stroke="#12b6ff" stroke-width="1.00"/>
<rect x="825.22" y="282.9" width="2.90" height="2.6" fill="#12b6ff"/>
<line x1="830.47" y1="251.2" x2="830.47" y2="284.7" stroke="#12b6ff" stroke-width="1.00"/>
<rect x="829.02" y="254.7" width="2.90" height="27.0" fill="#12b6ff"/>
<line x1="834.27" y1="242.9" x2="834.27" y2="262.6" stroke="#12b6ff" stroke-width="1.00"/>
<rect x="832.82" y="246.7" width="2.90" height="7.5" fill="#12b6ff"/>
<line x1="838.07" y1="228.8" x2="838.07" y2="245.9" stroke="#12b6ff" stroke-width="1.00"/>
<rect x="836.62" y="232.3" width="2.90" height="13.6" fill="#12b6ff"/>
<line x1="841.87" y1="230.9" x2="841.87" y2="239.7" stroke="#0a0a0a" stroke-width="1.2"/>
<line x1="840.47" y1="234.0" x2="842.27" y2="234.0" stroke="#0a0a0a" stroke-width="0.9"/>
<line x1="845.67" y1="232.8" x2="845.67" y2="236.2" stroke="#ff0000" stroke-width="1.00"/>
<rect x="844.22" y="232.8" width="2.90" height="2.6" fill="#ff0000"/>
<polyline fill="none" stroke="#ff0000" stroke-width="2.1" stroke-linejoin="round" points="163.5,2.5 164.2,3.2 192.6,24.3 210.8,40.5 231.1,56.7 251.3,73.0 279.7,94.0 304.0,110.3 332.4,128.9 352.7,145.1 370.9,160.2 377.6,166.5 388.2,174.6 398.8,181.1 409.4,187.4 420.0,192.9 430.5,199.0 441.1,203.1 451.7,206.7 462.3,209.2 472.9,213.8 485.0,218.3 495.5,221.1 513.2,229.1 530.8,233.8 550.0,240.9 565.0,246.3 580.0,248.8 615.3,249.9 632.9,251.1 650.5,252.0 668.2,253.4 671.2,254.5 685.8,255.5 694.1,257.1 706.4,259.9 715.0,259.8 731.1,258.9 759.3,259.0 770.0,261.0 775.0,261.6 792.9,264.7 814.1,267.6 835.3,269.3 845.8,269.7"/>
</g>
<rect x="2.5" y="2.5" width="954.0" height="480.0" fill="none" stroke="#000" stroke-width="1.1"/>
<line x1="2.0" y1="483.65" x2="957.0" y2="483.65" stroke="#6a6a6a" stroke-width="1.4"/>
<line x1="955.6" y1="467" x2="955.6" y2="482.5" stroke="#000" stroke-width="1"/>
<line x1="956.5" y1="484.8" x2="960.0" y2="484.8" stroke="#000" stroke-width="1"/>
<line x1="956.5" y1="512.4" x2="960.0" y2="512.4" stroke="#000" stroke-width="1"/>
<line x1="956.5" y1="547.4" x2="960.0" y2="547.4" stroke="#000" stroke-width="1"/>
<rect x="2.5" y="484.8" width="954.0" height="62.6" fill="none" stroke="#000" stroke-width="1.1"/>
<line x1="2.5" y1="512.5" x2="956.5" y2="512.5" stroke="#c4c4c4" stroke-width="1" stroke-dasharray="3.8 3.8"/>
<line x1="2.40" y1="512.5" x2="2.40" y2="502.0" stroke="#424242" stroke-width="1.5"/>
<line x1="6.20" y1="512.5" x2="6.20" y2="502.0" stroke="#424242" stroke-width="1.5"/>
<line x1="10.00" y1="512.5" x2="10.00" y2="502.0" stroke="#424242" stroke-width="1.5"/>
<line x1="13.80" y1="512.5" x2="13.80" y2="502.0" stroke="#424242" stroke-width="1.5"/>
<line x1="17.59" y1="512.5" x2="17.59" y2="502.0" stroke="#424242" stroke-width="1.5"/>
<line x1="21.39" y1="512.5" x2="21.39" y2="502.0" stroke="#424242" stroke-width="1.5"/>
<line x1="25.19" y1="512.5" x2="25.19" y2="502.0" stroke="#424242" stroke-width="1.5"/>
<line x1="28.99" y1="512.5" x2="28.99" y2="502.0" stroke="#424242" stroke-width="1.5"/>
<line x1="32.79" y1="512.5" x2="32.79" y2="502.0" stroke="#424242" stroke-width="1.5"/>
<line x1="36.59" y1="512.5" x2="36.59" y2="502.0" stroke="#424242" stroke-width="1.5"/>
<line x1="40.38" y1="512.5" x2="40.38" y2="504.8" stroke="#424242" stroke-width="1.5"/>
<line x1="44.18" y1="512.5" x2="44.18" y2="506.3" stroke="#424242" stroke-width="1.5"/>
<line x1="47.98" y1="512.5" x2="47.98" y2="511.2" stroke="#424242" stroke-width="1.5"/>
<line x1="51.78" y1="512.5" x2="51.78" y2="513.5" stroke="#424242" stroke-width="1.5"/>
<line x1="55.58" y1="512.5" x2="55.58" y2="516.0" stroke="#424242" stroke-width="1.5"/>
<line x1="59.38" y1="512.5" x2="59.38" y2="519.0" stroke="#424242" stroke-width="1.5"/>
<line x1="63.18" y1="512.5" x2="63.18" y2="522.0" stroke="#424242" stroke-width="1.5"/>
<line x1="66.97" y1="512.5" x2="66.97" y2="522.8" stroke="#424242" stroke-width="1.5"/>
<line x1="70.77" y1="512.5" x2="70.77" y2="523.2" stroke="#424242" stroke-width="1.5"/>
<line x1="74.57" y1="512.5" x2="74.57" y2="523.5" stroke="#424242" stroke-width="1.5"/>
<line x1="78.37" y1="512.5" x2="78.37" y2="523.5" stroke="#424242" stroke-width="1.5"/>
<line x1="82.17" y1="512.5" x2="82.17" y2="523.5" stroke="#424242" stroke-width="1.5"/>
<line x1="85.97" y1="512.5" x2="85.97" y2="523.5" stroke="#424242" stroke-width="1.5"/>
<line x1="89.77" y1="512.5" x2="89.77" y2="523.5" stroke="#424242" stroke-width="1.5"/>
<line x1="93.56" y1="512.5" x2="93.56" y2="523.5" stroke="#424242" stroke-width="1.5"/>
<line x1="97.36" y1="512.5" x2="97.36" y2="523.5" stroke="#424242" stroke-width="1.5"/>
<line x1="101.16" y1="512.5" x2="101.16" y2="523.1" stroke="#424242" stroke-width="1.5"/>
<line x1="104.96" y1="512.5" x2="104.96" y2="522.7" stroke="#424242" stroke-width="1.5"/>
<line x1="108.76" y1="512.5" x2="108.76" y2="522.4" stroke="#424242" stroke-width="1.5"/>
<line x1="112.56" y1="512.5" x2="112.56" y2="522.0" stroke="#424242" stroke-width="1.5"/>
<line x1="116.36" y1="512.5" x2="116.36" y2="521.7" stroke="#424242" stroke-width="1.5"/>
<line x1="120.15" y1="512.5" x2="120.15" y2="521.0" stroke="#424242" stroke-width="1.5"/>
<line x1="123.95" y1="512.5" x2="123.95" y2="517.8" stroke="#424242" stroke-width="1.5"/>
<line x1="127.75" y1="512.5" x2="127.75" y2="515.0" stroke="#424242" stroke-width="1.5"/>
<line x1="146.74" y1="512.5" x2="146.74" y2="511.9" stroke="#424242" stroke-width="1.5"/>
<line x1="150.54" y1="512.5" x2="150.54" y2="511.3" stroke="#424242" stroke-width="1.5"/>
<line x1="154.34" y1="512.5" x2="154.34" y2="509.1" stroke="#424242" stroke-width="1.5"/>
<line x1="158.14" y1="512.5" x2="158.14" y2="515.0" stroke="#424242" stroke-width="1.5"/>
<line x1="161.94" y1="512.5" x2="161.94" y2="518.9" stroke="#424242" stroke-width="1.5"/>
<line x1="165.74" y1="512.5" x2="165.74" y2="521.7" stroke="#424242" stroke-width="1.5"/>
<line x1="169.53" y1="512.5" x2="169.53" y2="525.7" stroke="#424242" stroke-width="1.5"/>
<line x1="173.33" y1="512.5" x2="173.33" y2="529.5" stroke="#424242" stroke-width="1.5"/>
<line x1="177.13" y1="512.5" x2="177.13" y2="533.0" stroke="#424242" stroke-width="1.5"/>
<line x1="180.93" y1="512.5" x2="180.93" y2="535.0" stroke="#424242" stroke-width="1.5"/>
<line x1="184.73" y1="512.5" x2="184.73" y2="537.5" stroke="#424242" stroke-width="1.5"/>
<line x1="188.53" y1="512.5" x2="188.53" y2="539.0" stroke="#424242" stroke-width="1.5"/>
<line x1="192.33" y1="512.5" x2="192.33" y2="540.0" stroke="#424242" stroke-width="1.5"/>
<line x1="196.12" y1="512.5" x2="196.12" y2="540.0" stroke="#424242" stroke-width="1.5"/>
<line x1="199.92" y1="512.5" x2="199.92" y2="540.0" stroke="#424242" stroke-width="1.5"/>
<line x1="203.72" y1="512.5" x2="203.72" y2="540.0" stroke="#424242" stroke-width="1.5"/>
<line x1="207.52" y1="512.5" x2="207.52" y2="539.5" stroke="#424242" stroke-width="1.5"/>
<line x1="211.32" y1="512.5" x2="211.32" y2="539.0" stroke="#424242" stroke-width="1.5"/>
<line x1="215.12" y1="512.5" x2="215.12" y2="538.5" stroke="#424242" stroke-width="1.5"/>
<line x1="218.91" y1="512.5" x2="218.91" y2="537.5" stroke="#424242" stroke-width="1.5"/>
<line x1="222.71" y1="512.5" x2="222.71" y2="536.5" stroke="#424242" stroke-width="1.5"/>
<line x1="226.51" y1="512.5" x2="226.51" y2="535.0" stroke="#424242" stroke-width="1.5"/>
<line x1="230.31" y1="512.5" x2="230.31" y2="532.5" stroke="#424242" stroke-width="1.5"/>
<line x1="234.11" y1="512.5" x2="234.11" y2="530.5" stroke="#424242" stroke-width="1.5"/>
<line x1="237.91" y1="512.5" x2="237.91" y2="528.5" stroke="#424242" stroke-width="1.5"/>
<line x1="241.71" y1="512.5" x2="241.71" y2="526.5" stroke="#424242" stroke-width="1.5"/>
<line x1="245.50" y1="512.5" x2="245.50" y2="525.5" stroke="#424242" stroke-width="1.5"/>
<line x1="249.30" y1="512.5" x2="249.30" y2="524.0" stroke="#424242" stroke-width="1.5"/>
<line x1="253.10" y1="512.5" x2="253.10" y2="521.5" stroke="#424242" stroke-width="1.5"/>
<line x1="256.90" y1="512.5" x2="256.90" y2="519.5" stroke="#424242" stroke-width="1.5"/>
<line x1="260.70" y1="512.5" x2="260.70" y2="517.5" stroke="#424242" stroke-width="1.5"/>
<line x1="264.50" y1="512.5" x2="264.50" y2="515.0" stroke="#424242" stroke-width="1.5"/>
<line x1="275.89" y1="512.5" x2="275.89" y2="508.5" stroke="#424242" stroke-width="1.5"/>
<line x1="279.69" y1="512.5" x2="279.69" y2="504.5" stroke="#424242" stroke-width="1.5"/>
<line x1="283.49" y1="512.5" x2="283.49" y2="503.0" stroke="#424242" stroke-width="1.5"/>
<line x1="287.29" y1="512.5" x2="287.29" y2="502.0" stroke="#424242" stroke-width="1.5"/>
<line x1="291.09" y1="512.5" x2="291.09" y2="500.5" stroke="#424242" stroke-width="1.5"/>
<line x1="294.88" y1="512.5" x2="294.88" y2="499.5" stroke="#424242" stroke-width="1.5"/>
<line x1="298.68" y1="512.5" x2="298.68" y2="498.0" stroke="#424242" stroke-width="1.5"/>
<line x1="302.48" y1="512.5" x2="302.48" y2="497.2" stroke="#424242" stroke-width="1.5"/>
<line x1="306.28" y1="512.5" x2="306.28" y2="497.0" stroke="#424242" stroke-width="1.5"/>
<line x1="310.08" y1="512.5" x2="310.08" y2="497.2" stroke="#424242" stroke-width="1.5"/>
<line x1="313.88" y1="512.5" x2="313.88" y2="497.8" stroke="#424242" stroke-width="1.5"/>
<line x1="317.68" y1="512.5" x2="317.68" y2="497.8" stroke="#424242" stroke-width="1.5"/>
<line x1="321.47" y1="512.5" x2="321.47" y2="497.8" stroke="#424242" stroke-width="1.5"/>
<line x1="325.27" y1="512.5" x2="325.27" y2="496.0" stroke="#424242" stroke-width="1.5"/>
<line x1="329.07" y1="512.5" x2="329.07" y2="497.2" stroke="#424242" stroke-width="1.5"/>
<line x1="332.87" y1="512.5" x2="332.87" y2="497.2" stroke="#424242" stroke-width="1.5"/>
<line x1="336.67" y1="512.5" x2="336.67" y2="497.5" stroke="#424242" stroke-width="1.5"/>
<line x1="340.47" y1="512.5" x2="340.47" y2="501.5" stroke="#424242" stroke-width="1.5"/>
<line x1="344.26" y1="512.5" x2="344.26" y2="504.5" stroke="#424242" stroke-width="1.5"/>
<line x1="348.06" y1="512.5" x2="348.06" y2="508.5" stroke="#424242" stroke-width="1.5"/>
<line x1="359.46" y1="512.5" x2="359.46" y2="514.8" stroke="#424242" stroke-width="1.5"/>
<line x1="363.26" y1="512.5" x2="363.26" y2="516.5" stroke="#424242" stroke-width="1.5"/>
<line x1="367.06" y1="512.5" x2="367.06" y2="517.5" stroke="#424242" stroke-width="1.5"/>
<line x1="370.85" y1="512.5" x2="370.85" y2="518.0" stroke="#424242" stroke-width="1.5"/>
<line x1="374.65" y1="512.5" x2="374.65" y2="518.5" stroke="#424242" stroke-width="1.5"/>
<line x1="378.45" y1="512.5" x2="378.45" y2="518.0" stroke="#424242" stroke-width="1.5"/>
<line x1="382.25" y1="512.5" x2="382.25" y2="517.8" stroke="#424242" stroke-width="1.5"/>
<line x1="386.05" y1="512.5" x2="386.05" y2="517.5" stroke="#424242" stroke-width="1.5"/>
<line x1="389.85" y1="512.5" x2="389.85" y2="517.8" stroke="#424242" stroke-width="1.5"/>
<line x1="393.65" y1="512.5" x2="393.65" y2="518.5" stroke="#424242" stroke-width="1.5"/>
<line x1="397.44" y1="512.5" x2="397.44" y2="518.8" stroke="#424242" stroke-width="1.5"/>
<line x1="401.24" y1="512.5" x2="401.24" y2="519.0" stroke="#424242" stroke-width="1.5"/>
<line x1="405.04" y1="512.5" x2="405.04" y2="519.8" stroke="#424242" stroke-width="1.5"/>
<line x1="408.84" y1="512.5" x2="408.84" y2="519.8" stroke="#424242" stroke-width="1.5"/>
<line x1="412.64" y1="512.5" x2="412.64" y2="520.5" stroke="#424242" stroke-width="1.5"/>
<line x1="416.44" y1="512.5" x2="416.44" y2="520.8" stroke="#424242" stroke-width="1.5"/>
<line x1="420.24" y1="512.5" x2="420.24" y2="520.5" stroke="#424242" stroke-width="1.5"/>
<line x1="424.03" y1="512.5" x2="424.03" y2="520.0" stroke="#424242" stroke-width="1.5"/>
<line x1="427.83" y1="512.5" x2="427.83" y2="519.0" stroke="#424242" stroke-width="1.5"/>
<line x1="431.63" y1="512.5" x2="431.63" y2="518.0" stroke="#424242" stroke-width="1.5"/>
<line x1="435.43" y1="512.5" x2="435.43" y2="517.0" stroke="#424242" stroke-width="1.5"/>
<line x1="439.23" y1="512.5" x2="439.23" y2="514.8" stroke="#424242" stroke-width="1.5"/>
<line x1="446.82" y1="512.5" x2="446.82" y2="508.5" stroke="#424242" stroke-width="1.5"/>
<line x1="450.62" y1="512.5" x2="450.62" y2="506.5" stroke="#424242" stroke-width="1.5"/>
<line x1="454.42" y1="512.5" x2="454.42" y2="504.5" stroke="#424242" stroke-width="1.5"/>
<line x1="458.22" y1="512.5" x2="458.22" y2="503.5" stroke="#424242" stroke-width="1.5"/>
<line x1="462.02" y1="512.5" x2="462.02" y2="502.5" stroke="#424242" stroke-width="1.5"/>
<line x1="465.82" y1="512.5" x2="465.82" y2="501.5" stroke="#424242" stroke-width="1.5"/>
<line x1="469.62" y1="512.5" x2="469.62" y2="503.0" stroke="#424242" stroke-width="1.5"/>
<line x1="473.41" y1="512.5" x2="473.41" y2="503.5" stroke="#424242" stroke-width="1.5"/>
<line x1="477.21" y1="512.5" x2="477.21" y2="503.5" stroke="#424242" stroke-width="1.5"/>
<line x1="481.01" y1="512.5" x2="481.01" y2="503.8" stroke="#424242" stroke-width="1.5"/>
<line x1="484.81" y1="512.5" x2="484.81" y2="503.8" stroke="#424242" stroke-width="1.5"/>
<line x1="488.61" y1="512.5" x2="488.61" y2="503.8" stroke="#424242" stroke-width="1.5"/>
<line x1="492.41" y1="512.5" x2="492.41" y2="503.5" stroke="#424242" stroke-width="1.5"/>
<line x1="496.20" y1="512.5" x2="496.20" y2="501.5" stroke="#424242" stroke-width="1.5"/>
<line x1="500.00" y1="512.5" x2="500.00" y2="502.5" stroke="#424242" stroke-width="1.5"/>
<line x1="503.80" y1="512.5" x2="503.80" y2="505.5" stroke="#424242" stroke-width="1.5"/>
<line x1="507.60" y1="512.5" x2="507.60" y2="506.5" stroke="#424242" stroke-width="1.5"/>
<line x1="511.40" y1="512.5" x2="511.40" y2="507.5" stroke="#424242" stroke-width="1.5"/>
<line x1="515.20" y1="512.5" x2="515.20" y2="507.8" stroke="#424242" stroke-width="1.5"/>
<line x1="519.00" y1="512.5" x2="519.00" y2="507.8" stroke="#424242" stroke-width="1.5"/>
<line x1="522.79" y1="512.5" x2="522.79" y2="508.0" stroke="#424242" stroke-width="1.5"/>
<line x1="526.59" y1="512.5" x2="526.59" y2="508.0" stroke="#424242" stroke-width="1.5"/>
<line x1="530.39" y1="512.5" x2="530.39" y2="509.0" stroke="#424242" stroke-width="1.5"/>
<line x1="534.19" y1="512.5" x2="534.19" y2="513.3" stroke="#424242" stroke-width="1.5"/>
<line x1="537.99" y1="512.5" x2="537.99" y2="513.5" stroke="#424242" stroke-width="1.5"/>
<line x1="541.79" y1="512.5" x2="541.79" y2="515.0" stroke="#424242" stroke-width="1.5"/>
<line x1="545.59" y1="512.5" x2="545.59" y2="516.0" stroke="#424242" stroke-width="1.5"/>
<line x1="549.38" y1="512.5" x2="549.38" y2="516.5" stroke="#424242" stroke-width="1.5"/>
<line x1="553.18" y1="512.5" x2="553.18" y2="518.0" stroke="#424242" stroke-width="1.5"/>
<line x1="556.98" y1="512.5" x2="556.98" y2="518.0" stroke="#424242" stroke-width="1.5"/>
<line x1="560.78" y1="512.5" x2="560.78" y2="517.0" stroke="#424242" stroke-width="1.5"/>
<line x1="564.58" y1="512.5" x2="564.58" y2="516.5" stroke="#424242" stroke-width="1.5"/>
<line x1="568.38" y1="512.5" x2="568.38" y2="516.5" stroke="#424242" stroke-width="1.5"/>
<line x1="572.17" y1="512.5" x2="572.17" y2="516.0" stroke="#424242" stroke-width="1.5"/>
<line x1="575.97" y1="512.5" x2="575.97" y2="516.0" stroke="#424242" stroke-width="1.5"/>
<line x1="579.77" y1="512.5" x2="579.77" y2="515.5" stroke="#424242" stroke-width="1.5"/>
<line x1="583.57" y1="512.5" x2="583.57" y2="515.0" stroke="#424242" stroke-width="1.5"/>
<line x1="587.37" y1="512.5" x2="587.37" y2="514.2" stroke="#424242" stroke-width="1.5"/>
<line x1="598.76" y1="512.5" x2="598.76" y2="511.5" stroke="#424242" stroke-width="1.5"/>
<line x1="602.56" y1="512.5" x2="602.56" y2="510.5" stroke="#424242" stroke-width="1.5"/>
<line x1="606.36" y1="512.5" x2="606.36" y2="510.5" stroke="#424242" stroke-width="1.5"/>
<line x1="610.16" y1="512.5" x2="610.16" y2="510.0" stroke="#424242" stroke-width="1.5"/>
<line x1="613.96" y1="512.5" x2="613.96" y2="509.0" stroke="#424242" stroke-width="1.5"/>
<line x1="617.76" y1="512.5" x2="617.76" y2="508.0" stroke="#424242" stroke-width="1.5"/>
<line x1="621.56" y1="512.5" x2="621.56" y2="507.5" stroke="#424242" stroke-width="1.5"/>
<line x1="625.35" y1="512.5" x2="625.35" y2="507.0" stroke="#424242" stroke-width="1.5"/>
<line x1="629.15" y1="512.5" x2="629.15" y2="506.5" stroke="#424242" stroke-width="1.5"/>
<line x1="632.95" y1="512.5" x2="632.95" y2="506.0" stroke="#424242" stroke-width="1.5"/>
<line x1="636.75" y1="512.5" x2="636.75" y2="505.5" stroke="#424242" stroke-width="1.5"/>
<line x1="640.55" y1="512.5" x2="640.55" y2="505.2" stroke="#424242" stroke-width="1.5"/>
<line x1="644.35" y1="512.5" x2="644.35" y2="504.5" stroke="#424242" stroke-width="1.5"/>
<line x1="648.14" y1="512.5" x2="648.14" y2="506.0" stroke="#424242" stroke-width="1.5"/>
<line x1="651.94" y1="512.5" x2="651.94" y2="507.5" stroke="#424242" stroke-width="1.5"/>
<line x1="655.74" y1="512.5" x2="655.74" y2="509.0" stroke="#424242" stroke-width="1.5"/>
<line x1="659.54" y1="512.5" x2="659.54" y2="509.5" stroke="#424242" stroke-width="1.5"/>
<line x1="663.34" y1="512.5" x2="663.34" y2="511.0" stroke="#424242" stroke-width="1.5"/>
<line x1="670.94" y1="512.5" x2="670.94" y2="514.5" stroke="#424242" stroke-width="1.5"/>
<line x1="674.73" y1="512.5" x2="674.73" y2="515.2" stroke="#424242" stroke-width="1.5"/>
<line x1="678.53" y1="512.5" x2="678.53" y2="515.2" stroke="#424242" stroke-width="1.5"/>
<line x1="682.33" y1="512.5" x2="682.33" y2="514.5" stroke="#424242" stroke-width="1.5"/>
<line x1="686.13" y1="512.5" x2="686.13" y2="513.6" stroke="#424242" stroke-width="1.5"/>
<line x1="689.93" y1="512.5" x2="689.93" y2="513.8" stroke="#424242" stroke-width="1.5"/>
<line x1="693.73" y1="512.5" x2="693.73" y2="514.5" stroke="#424242" stroke-width="1.5"/>
<line x1="697.53" y1="512.5" x2="697.53" y2="515.5" stroke="#424242" stroke-width="1.5"/>
<line x1="701.32" y1="512.5" x2="701.32" y2="517.0" stroke="#424242" stroke-width="1.5"/>
<line x1="705.12" y1="512.5" x2="705.12" y2="519.0" stroke="#424242" stroke-width="1.5"/>
<line x1="708.92" y1="512.5" x2="708.92" y2="515.5" stroke="#424242" stroke-width="1.5"/>
<line x1="712.72" y1="512.5" x2="712.72" y2="513.3" stroke="#424242" stroke-width="1.5"/>
<line x1="716.52" y1="512.5" x2="716.52" y2="509.2" stroke="#424242" stroke-width="1.5"/>
<line x1="720.32" y1="512.5" x2="720.32" y2="504.5" stroke="#424242" stroke-width="1.5"/>
<line x1="724.12" y1="512.5" x2="724.12" y2="502.0" stroke="#424242" stroke-width="1.5"/>
<line x1="727.91" y1="512.5" x2="727.91" y2="499.0" stroke="#424242" stroke-width="1.5"/>
<line x1="731.71" y1="512.5" x2="731.71" y2="496.5" stroke="#424242" stroke-width="1.5"/>
<line x1="735.51" y1="512.5" x2="735.51" y2="497.0" stroke="#424242" stroke-width="1.5"/>
<line x1="739.31" y1="512.5" x2="739.31" y2="496.0" stroke="#424242" stroke-width="1.5"/>
<line x1="743.11" y1="512.5" x2="743.11" y2="495.0" stroke="#424242" stroke-width="1.5"/>
<line x1="746.91" y1="512.5" x2="746.91" y2="491.5" stroke="#424242" stroke-width="1.5"/>
<line x1="750.70" y1="512.5" x2="750.70" y2="490.5" stroke="#424242" stroke-width="1.5"/>
<line x1="754.50" y1="512.5" x2="754.50" y2="490.2" stroke="#424242" stroke-width="1.5"/>
<line x1="758.30" y1="512.5" x2="758.30" y2="491.2" stroke="#424242" stroke-width="1.5"/>
<line x1="762.10" y1="512.5" x2="762.10" y2="492.5" stroke="#424242" stroke-width="1.5"/>
<line x1="765.90" y1="512.5" x2="765.90" y2="494.0" stroke="#424242" stroke-width="1.5"/>
<line x1="769.70" y1="512.5" x2="769.70" y2="495.5" stroke="#424242" stroke-width="1.5"/>
<line x1="773.50" y1="512.5" x2="773.50" y2="500.0" stroke="#424242" stroke-width="1.5"/>
<line x1="777.29" y1="512.5" x2="777.29" y2="503.0" stroke="#424242" stroke-width="1.5"/>
<line x1="781.09" y1="512.5" x2="781.09" y2="505.5" stroke="#424242" stroke-width="1.5"/>
<line x1="784.89" y1="512.5" x2="784.89" y2="507.5" stroke="#424242" stroke-width="1.5"/>
<line x1="788.69" y1="512.5" x2="788.69" y2="508.5" stroke="#424242" stroke-width="1.5"/>
<line x1="796.29" y1="512.5" x2="796.29" y2="515.0" stroke="#424242" stroke-width="1.5"/>
<line x1="800.09" y1="512.5" x2="800.09" y2="517.8" stroke="#424242" stroke-width="1.5"/>
<line x1="803.88" y1="512.5" x2="803.88" y2="520.5" stroke="#424242" stroke-width="1.5"/>
<line x1="807.68" y1="512.5" x2="807.68" y2="521.5" stroke="#424242" stroke-width="1.5"/>
<line x1="811.48" y1="512.5" x2="811.48" y2="522.5" stroke="#424242" stroke-width="1.5"/>
<line x1="815.28" y1="512.5" x2="815.28" y2="523.5" stroke="#424242" stroke-width="1.5"/>
<line x1="819.08" y1="512.5" x2="819.08" y2="524.0" stroke="#424242" stroke-width="1.5"/>
<line x1="822.88" y1="512.5" x2="822.88" y2="524.5" stroke="#424242" stroke-width="1.5"/>
<line x1="826.67" y1="512.5" x2="826.67" y2="524.0" stroke="#424242" stroke-width="1.5"/>
<line x1="830.47" y1="512.5" x2="830.47" y2="523.0" stroke="#424242" stroke-width="1.5"/>
<line x1="834.27" y1="512.5" x2="834.27" y2="521.5" stroke="#424242" stroke-width="1.5"/>
<line x1="838.07" y1="512.5" x2="838.07" y2="520.5" stroke="#424242" stroke-width="1.5"/>
<line x1="841.87" y1="512.5" x2="841.87" y2="518.8" stroke="#424242" stroke-width="1.5"/>
<line x1="845.67" y1="512.5" x2="845.67" y2="517.8" stroke="#424242" stroke-width="1.5"/>
<polyline fill="none" stroke="#ff0000" stroke-width="1.05" stroke-linejoin="round" points="3.0,505.5 9.0,502.5 19.5,501.3 37.5,501.3 45.0,502.5 52.5,506.2 60.0,510.0 67.5,515.2 75.0,519.0 82.5,522.0 90.0,523.5 97.5,524.2 112.5,524.4 120.0,523.6 127.5,521.6 135.0,519.2 142.0,516.8 149.0,514.3 154.0,512.9 160.0,513.1 165.0,514.0 170.0,516.4 175.0,518.5 185.0,527.5 195.0,535.0 205.0,539.5 215.0,540.8 224.0,540.8 235.0,537.0 250.0,532.0 260.0,526.5 270.0,520.5 280.0,515.0 290.0,509.0 300.0,503.5 310.0,500.0 320.0,497.8 330.0,497.0 340.0,497.5 350.0,500.5 360.0,505.5 370.0,511.5 375.0,514.5 380.0,516.5 390.0,518.5 400.0,519.0 410.0,519.8 420.0,520.5 430.0,520.8 435.0,520.8 440.0,519.8 445.0,518.0 450.0,516.5 460.0,511.5 470.0,506.0 480.0,503.5 490.0,503.2 500.0,503.2 505.0,503.5 515.0,504.5 525.0,506.5 535.0,509.0 545.0,511.5 550.0,513.0 560.0,517.0 570.0,518.2 580.0,518.0 590.0,517.0 595.0,516.0 600.0,514.8 610.0,513.0 620.0,510.5 630.0,508.8 640.0,507.5 650.0,506.5 660.0,506.8 670.0,509.0 680.0,511.8 690.0,513.5 700.0,515.5 705.0,516.5 710.0,516.5 715.0,515.8 720.0,514.2 725.0,512.0 730.0,510.0 735.0,506.0 740.0,502.5 745.0,499.5 750.0,497.5 755.0,495.5 760.0,493.5 765.0,493.2 774.0,493.2 780.0,495.0 790.0,500.5 800.0,507.5 810.0,514.5 820.0,520.0 828.0,523.2 845.5,523.2"/>
<line x1="40.0" y1="479.2" x2="40.0" y2="482.5" stroke="#111" stroke-width="0.9"/>
<polygon points="40.0,467.5 71.9,467.5 75.2,473.4 71.9,479.2 40.0,479.2" fill="#b4f1f1" stroke="#111" stroke-width="1"/>
<text x="42.0" y="477" font-size="8.2" fill="#000" stroke="#000" stroke-width="0.32" class="t" letter-spacing="0">0</text>
<line x1="44.2" y1="480.6" x2="44.2" y2="482.5" stroke="#111" stroke-width="0.9"/>
<line x1="55.4" y1="480.6" x2="55.4" y2="482.5" stroke="#111" stroke-width="0.9"/>
<line x1="59.3" y1="480.6" x2="59.3" y2="482.5" stroke="#111" stroke-width="0.9"/>
<line x1="47.8" y1="479.2" x2="47.8" y2="482.5" stroke="#111" stroke-width="0.9"/>
<polygon points="47.8,467.5 70.1,467.5 73.4,473.4 70.1,479.2 47.8,479.2" fill="#ffbfca" stroke="#111" stroke-width="1"/>
<text x="49.8" y="477" font-size="8.2" fill="#000" stroke="#000" stroke-width="0.32" class="t" letter-spacing="0">10:15</text>
<line x1="52.0" y1="480.6" x2="52.0" y2="482.5" stroke="#111" stroke-width="0.9"/>
<line x1="63.2" y1="480.6" x2="63.2" y2="482.5" stroke="#111" stroke-width="0.9"/>
<line x1="67.1" y1="480.6" x2="67.1" y2="482.5" stroke="#111" stroke-width="0.9"/>
<line x1="75.0" y1="479.2" x2="75.0" y2="482.5" stroke="#111" stroke-width="0.9"/>
<rect x="75.0" y="467.5" width="10.0" height="11.7" fill="#ffbfca"/>
<path d="M84.7 467.5H75.0V479.2H84.7" fill="none" stroke="#111" stroke-width="1.00"/>
<text x="77.0" y="477" font-size="8.2" fill="#000" stroke="#000" stroke-width="0.32" class="t" letter-spacing="0">17</text>
<line x1="85.5" y1="479.2" x2="85.5" y2="482.5" stroke="#111" stroke-width="0.9"/>
<rect x="85.5" y="467.5" width="17.5" height="11.7" fill="#ffffff"/>
<path d="M102.7 467.5H85.5V479.2H102.7" fill="none" stroke="#111" stroke-width="1.00"/>
<text x="87.5" y="477" font-size="8.2" fill="#000" stroke="#000" stroke-width="0.32" class="t" letter-spacing="0">20:0</text>
<line x1="89.7" y1="480.6" x2="89.7" y2="482.5" stroke="#111" stroke-width="0.9"/>
<line x1="104.0" y1="479.2" x2="104.0" y2="482.5" stroke="#111" stroke-width="0.9"/>
<polygon points="104.0,467.5 127.7,467.5 131.0,473.4 127.7,479.2 104.0,479.2" fill="#ffffff" stroke="#111" stroke-width="1"/>
<text x="106.0" y="477" font-size="8.2" fill="#000" stroke="#000" stroke-width="0.32" class="t" letter-spacing="0">01:45</text>
<line x1="108.2" y1="480.6" x2="108.2" y2="482.5" stroke="#111" stroke-width="0.9"/>
<line x1="119.4" y1="480.6" x2="119.4" y2="482.5" stroke="#111" stroke-width="0.9"/>
<line x1="123.3" y1="480.6" x2="123.3" y2="482.5" stroke="#111" stroke-width="0.9"/>
<line x1="132.0" y1="479.2" x2="132.0" y2="482.5" stroke="#111" stroke-width="0.9"/>
<rect x="132.0" y="467.5" width="2.0" height="11.7" fill="#ffffff"/>
<path d="M133.7 467.5H132.0V479.2H133.7" fill="none" stroke="#111" stroke-width="0.85"/>
<line x1="135.0" y1="479.2" x2="135.0" y2="482.5" stroke="#111" stroke-width="0.9"/>
<rect x="135.0" y="467.5" width="12.5" height="11.7" fill="#ffffff"/>
<path d="M147.2 467.5H135.0V479.2H147.2" fill="none" stroke="#111" stroke-width="1.00"/>
<text x="137.0" y="477" font-size="8.2" fill="#000" stroke="#000" stroke-width="0.32" class="t" letter-spacing="0">09</text>
<line x1="147.5" y1="479.2" x2="147.5" y2="482.5" stroke="#111" stroke-width="0.9"/>
<polygon points="167.8,467.5 172.5,467.5 175.8,473.4 172.5,479.2 167.8,479.2" fill="#b4f1f1" stroke="#111" stroke-width="0.9"/>
<polygon points="147.5,467.5 169.8,467.5 173.1,473.4 169.8,479.2 147.5,479.2" fill="#b4f1f1" stroke="#111" stroke-width="1"/>
<text x="149.5" y="477" font-size="8.2" fill="#000" stroke="#000" stroke-width="0.32" class="t" letter-spacing="0">12:00</text>
<line x1="151.7" y1="480.6" x2="151.7" y2="482.5" stroke="#111" stroke-width="0.9"/>
<line x1="162.9" y1="480.6" x2="162.9" y2="482.5" stroke="#111" stroke-width="0.9"/>
<line x1="166.8" y1="480.6" x2="166.8" y2="482.5" stroke="#111" stroke-width="0.9"/>
<line x1="177.0" y1="479.2" x2="177.0" y2="482.5" stroke="#111" stroke-width="0.9"/>
<rect x="177.0" y="467.5" width="22.0" height="11.7" fill="#ffffff"/>
<path d="M198.7 467.5H177.0V479.2H198.7" fill="none" stroke="#111" stroke-width="1.00"/>
<text x="179.0" y="477" font-size="8.2" fill="#000" stroke="#000" stroke-width="0.32" class="t" letter-spacing="0">20:30</text>
<line x1="181.2" y1="480.6" x2="181.2" y2="482.5" stroke="#111" stroke-width="0.9"/>
<line x1="192.4" y1="480.6" x2="192.4" y2="482.5" stroke="#111" stroke-width="0.9"/>
<line x1="199.0" y1="479.2" x2="199.0" y2="482.5" stroke="#111" stroke-width="0.9"/>
<polygon points="199.0,467.5 220.7,467.5 224.0,473.4 220.7,479.2 199.0,479.2" fill="#ffffff" stroke="#111" stroke-width="1"/>
<text x="201.0" y="477" font-size="8.2" fill="#000" stroke="#000" stroke-width="0.32" class="t" letter-spacing="0">02:05</text>
<line x1="203.2" y1="480.6" x2="203.2" y2="482.5" stroke="#111" stroke-width="0.9"/>
<line x1="214.4" y1="480.6" x2="214.4" y2="482.5" stroke="#111" stroke-width="0.9"/>
<line x1="218.3" y1="480.6" x2="218.3" y2="482.5" stroke="#111" stroke-width="0.9"/>
<line x1="226.0" y1="479.2" x2="226.0" y2="482.5" stroke="#111" stroke-width="0.9"/>
<polygon points="226.0,467.5 246.7,467.5 250.0,473.4 246.7,479.2 226.0,479.2" fill="#ffbfca" stroke="#111" stroke-width="1"/>
<text x="228.0" y="477" font-size="8.2" fill="#000" stroke="#000" stroke-width="0.32" class="t" letter-spacing="0">09:00</text>
<line x1="230.2" y1="480.6" x2="230.2" y2="482.5" stroke="#111" stroke-width="0.9"/>
<line x1="241.4" y1="480.6" x2="241.4" y2="482.5" stroke="#111" stroke-width="0.9"/>
<line x1="245.3" y1="480.6" x2="245.3" y2="482.5" stroke="#111" stroke-width="0.9"/>
<line x1="250.0" y1="479.2" x2="250.0" y2="482.5" stroke="#111" stroke-width="0.9"/>
<rect x="250.0" y="467.5" width="2.5" height="11.7" fill="#ffbfca"/>
<path d="M252.2 467.5H250.0V479.2H252.2" fill="none" stroke="#111" stroke-width="0.85"/>
<line x1="257.0" y1="479.2" x2="257.0" y2="482.5" stroke="#111" stroke-width="0.9"/>
<rect x="257.0" y="467.5" width="14.0" height="11.7" fill="#ffffff"/>
<path d="M270.7 467.5H257.0V479.2H270.7" fill="none" stroke="#111" stroke-width="1.00"/>
<text x="259.0" y="477" font-size="8.2" fill="#000" stroke="#000" stroke-width="0.32" class="t" letter-spacing="0">17:</text>
<line x1="272.0" y1="479.2" x2="272.0" y2="482.5" stroke="#111" stroke-width="0.9"/>
<polygon points="293.0,467.5 297.7,467.5 301.0,473.4 297.7,479.2 293.0,479.2" fill="#ffffff" stroke="#111" stroke-width="0.9"/>
<polygon points="272.0,467.5 295.0,467.5 298.3,473.4 295.0,479.2 272.0,479.2" fill="#ffffff" stroke="#111" stroke-width="1"/>
<text x="274.0" y="477" font-size="8.2" fill="#000" stroke="#000" stroke-width="0.32" class="t" letter-spacing="0">21:30</text>
<line x1="276.2" y1="480.6" x2="276.2" y2="482.5" stroke="#111" stroke-width="0.9"/>
<line x1="287.4" y1="480.6" x2="287.4" y2="482.5" stroke="#111" stroke-width="0.9"/>
<line x1="291.3" y1="480.6" x2="291.3" y2="482.5" stroke="#111" stroke-width="0.9"/>
<line x1="314.0" y1="479.2" x2="314.0" y2="482.5" stroke="#111" stroke-width="0.9"/>
<rect x="314.0" y="467.5" width="2.0" height="11.7" fill="#ffffff"/>
<path d="M315.7 467.5H314.0V479.2H315.7" fill="none" stroke="#111" stroke-width="0.85"/>
<line x1="316.5" y1="479.2" x2="316.5" y2="482.5" stroke="#111" stroke-width="0.9"/>
<rect x="316.5" y="467.5" width="2.5" height="11.7" fill="#ffffff"/>
<path d="M318.7 467.5H316.5V479.2H318.7" fill="none" stroke="#111" stroke-width="0.85"/>
<line x1="319.5" y1="479.2" x2="319.5" y2="482.5" stroke="#111" stroke-width="0.9"/>
<rect x="319.5" y="467.5" width="2.5" height="11.7" fill="#ffffff"/>
<path d="M321.7 467.5H319.5V479.2H321.7" fill="none" stroke="#111" stroke-width="0.85"/>
<line x1="325.0" y1="479.2" x2="325.0" y2="482.5" stroke="#111" stroke-width="0.9"/>
<rect x="325.0" y="467.5" width="22.0" height="11.7" fill="#ffffff"/>
<path d="M346.7 467.5H325.0V479.2H346.7" fill="none" stroke="#111" stroke-width="1.00"/>
<text x="327.0" y="477" font-size="8.2" fill="#000" stroke="#000" stroke-width="0.32" class="t" letter-spacing="0">12:00</text>
<line x1="329.2" y1="480.6" x2="329.2" y2="482.5" stroke="#111" stroke-width="0.9"/>
<line x1="340.4" y1="480.6" x2="340.4" y2="482.5" stroke="#111" stroke-width="0.9"/>
<line x1="348.0" y1="479.2" x2="348.0" y2="482.5" stroke="#111" stroke-width="0.9"/>
<rect x="348.0" y="467.5" width="6.0" height="11.7" fill="#ffffff"/>
<path d="M353.7 467.5H348.0V479.2H353.7" fill="none" stroke="#111" stroke-width="1.00"/>
<text x="350.0" y="477" font-size="8.2" fill="#000" stroke="#000" stroke-width="0.32" class="t" letter-spacing="0">1</text>
<line x1="355.0" y1="479.2" x2="355.0" y2="482.5" stroke="#111" stroke-width="0.9"/>
<rect x="355.0" y="467.5" width="15.0" height="11.7" fill="#ffffff"/>
<path d="M369.7 467.5H355.0V479.2H369.7" fill="none" stroke="#111" stroke-width="1.00"/>
<text x="357.0" y="477" font-size="8.2" fill="#000" stroke="#000" stroke-width="0.32" class="t" letter-spacing="0">20:</text>
<line x1="371.0" y1="479.2" x2="371.0" y2="482.5" stroke="#111" stroke-width="0.9"/>
<rect x="371.0" y="467.5" width="6.0" height="11.7" fill="#ffffff"/>
<path d="M376.7 467.5H371.0V479.2H376.7" fill="none" stroke="#111" stroke-width="1.00"/>
<text x="373.0" y="477" font-size="8.2" fill="#000" stroke="#000" stroke-width="0.32" class="t" letter-spacing="0">0</text>
<line x1="378.0" y1="479.2" x2="378.0" y2="482.5" stroke="#111" stroke-width="0.9"/>
<polygon points="378.0,467.5 398.7,467.5 402.0,473.4 398.7,479.2 378.0,479.2" fill="#ffffff" stroke="#111" stroke-width="1"/>
<text x="380.0" y="477" font-size="8.2" fill="#000" stroke="#000" stroke-width="0.32" class="t" letter-spacing="0">02:00</text>
<line x1="382.2" y1="480.6" x2="382.2" y2="482.5" stroke="#111" stroke-width="0.9"/>
<line x1="393.4" y1="480.6" x2="393.4" y2="482.5" stroke="#111" stroke-width="0.9"/>
<line x1="397.3" y1="480.6" x2="397.3" y2="482.5" stroke="#111" stroke-width="0.9"/>
<line x1="405.0" y1="479.2" x2="405.0" y2="482.5" stroke="#111" stroke-width="0.9"/>
<rect x="405.0" y="467.5" width="6.0" height="11.7" fill="#ffffff"/>
<path d="M410.7 467.5H405.0V479.2H410.7" fill="none" stroke="#111" stroke-width="1.00"/>
<text x="407.0" y="477" font-size="8.2" fill="#000" stroke="#000" stroke-width="0.32" class="t" letter-spacing="0">0</text>
<line x1="412.0" y1="479.2" x2="412.0" y2="482.5" stroke="#111" stroke-width="0.9"/>
<rect x="412.0" y="467.5" width="11.0" height="11.7" fill="#ffffff"/>
<path d="M422.7 467.5H412.0V479.2H422.7" fill="none" stroke="#111" stroke-width="1.00"/>
<text x="414.0" y="477" font-size="8.2" fill="#000" stroke="#000" stroke-width="0.32" class="t" letter-spacing="0">11</text>
<line x1="424.0" y1="479.2" x2="424.0" y2="482.5" stroke="#111" stroke-width="0.9"/>
<polygon points="424.0,467.5 446.7,467.5 450.0,473.4 446.7,479.2 424.0,479.2" fill="#ffffff" stroke="#111" stroke-width="1"/>
<text x="426.0" y="477" font-size="8.2" fill="#000" stroke="#000" stroke-width="0.32" class="t" letter-spacing="0">14:30</text>
<line x1="428.2" y1="480.6" x2="428.2" y2="482.5" stroke="#111" stroke-width="0.9"/>
<line x1="439.4" y1="480.6" x2="439.4" y2="482.5" stroke="#111" stroke-width="0.9"/>
<line x1="443.3" y1="480.6" x2="443.3" y2="482.5" stroke="#111" stroke-width="0.9"/>
<line x1="489.0" y1="479.2" x2="489.0" y2="482.5" stroke="#111" stroke-width="0.9"/>
<rect x="489.0" y="467.5" width="11.0" height="11.7" fill="#ffffff"/>
<path d="M499.7 467.5H489.0V479.2H499.7" fill="none" stroke="#111" stroke-width="1.00"/>
<text x="491.0" y="477" font-size="8.2" fill="#000" stroke="#000" stroke-width="0.32" class="t" letter-spacing="0">07</text>
<line x1="500.0" y1="479.2" x2="500.0" y2="482.5" stroke="#111" stroke-width="0.9"/>
<rect x="500.0" y="467.5" width="2.0" height="11.7" fill="#ffffff"/>
<path d="M501.7 467.5H500.0V479.2H501.7" fill="none" stroke="#111" stroke-width="0.85"/>
<line x1="502.5" y1="479.2" x2="502.5" y2="482.5" stroke="#111" stroke-width="0.9"/>
<rect x="502.5" y="467.5" width="2.5" height="11.7" fill="#ffffff"/>
<path d="M504.7 467.5H502.5V479.2H504.7" fill="none" stroke="#111" stroke-width="0.85"/>
<line x1="505.5" y1="479.2" x2="505.5" y2="482.5" stroke="#111" stroke-width="0.9"/>
<rect x="505.5" y="467.5" width="2.5" height="11.7" fill="#ffffff"/>
<path d="M507.7 467.5H505.5V479.2H507.7" fill="none" stroke="#111" stroke-width="0.85"/>
<line x1="508.5" y1="479.2" x2="508.5" y2="482.5" stroke="#111" stroke-width="0.9"/>
<rect x="508.5" y="467.5" width="2.5" height="11.7" fill="#ffffff"/>
<path d="M510.7 467.5H508.5V479.2H510.7" fill="none" stroke="#111" stroke-width="0.85"/>
<line x1="511.5" y1="479.2" x2="511.5" y2="482.5" stroke="#111" stroke-width="0.9"/>
<rect x="511.5" y="467.5" width="2.5" height="11.7" fill="#ffffff"/>
<path d="M513.7 467.5H511.5V479.2H513.7" fill="none" stroke="#111" stroke-width="0.85"/>
<line x1="514.5" y1="479.2" x2="514.5" y2="482.5" stroke="#111" stroke-width="0.9"/>
<rect x="514.5" y="467.5" width="3.5" height="11.7" fill="#ffffff"/>
<path d="M517.7 467.5H514.5V479.2H517.7" fill="none" stroke="#111" stroke-width="0.85"/>
<line x1="519.0" y1="479.2" x2="519.0" y2="482.5" stroke="#111" stroke-width="0.9"/>
<rect x="519.0" y="467.5" width="7.0" height="11.7" fill="#ffffff"/>
<path d="M525.7 467.5H519.0V479.2H525.7" fill="none" stroke="#111" stroke-width="1.00"/>
<text x="521.0" y="477" font-size="8.2" fill="#000" stroke="#000" stroke-width="0.32" class="t" letter-spacing="0">1</text>
<line x1="527.0" y1="479.2" x2="527.0" y2="482.5" stroke="#111" stroke-width="0.9"/>
<rect x="527.0" y="467.5" width="3.0" height="11.7" fill="#ffffff"/>
<path d="M529.7 467.5H527.0V479.2H529.7" fill="none" stroke="#111" stroke-width="0.85"/>
<line x1="530.0" y1="479.2" x2="530.0" y2="482.5" stroke="#111" stroke-width="0.9"/>
<rect x="530.0" y="467.5" width="7.0" height="11.7" fill="#ffffff"/>
<path d="M536.7 467.5H530.0V479.2H536.7" fill="none" stroke="#111" stroke-width="1.00"/>
<text x="532.0" y="477" font-size="8.2" fill="#000" stroke="#000" stroke-width="0.32" class="t" letter-spacing="0">1</text>
<line x1="538.0" y1="479.2" x2="538.0" y2="482.5" stroke="#111" stroke-width="0.9"/>
<polygon points="538.0,467.5 557.7,467.5 561.0,473.4 557.7,479.2 538.0,479.2" fill="#ffffff" stroke="#111" stroke-width="1"/>
<text x="540.0" y="477" font-size="8.2" fill="#000" stroke="#000" stroke-width="0.32" class="t" letter-spacing="0">20:00</text>
<line x1="542.2" y1="480.6" x2="542.2" y2="482.5" stroke="#111" stroke-width="0.9"/>
<line x1="553.4" y1="480.6" x2="553.4" y2="482.5" stroke="#111" stroke-width="0.9"/>
<line x1="557.3" y1="480.6" x2="557.3" y2="482.5" stroke="#111" stroke-width="0.9"/>
<line x1="583.0" y1="479.2" x2="583.0" y2="482.5" stroke="#111" stroke-width="0.9"/>
<rect x="583.0" y="467.5" width="3.0" height="11.7" fill="#ffffff"/>
<path d="M585.7 467.5H583.0V479.2H585.7" fill="none" stroke="#111" stroke-width="0.85"/>
<line x1="586.5" y1="479.2" x2="586.5" y2="482.5" stroke="#111" stroke-width="0.9"/>
<rect x="586.5" y="467.5" width="2.5" height="11.7" fill="#ffffff"/>
<path d="M588.7 467.5H586.5V479.2H588.7" fill="none" stroke="#111" stroke-width="0.85"/>
<line x1="589.5" y1="479.2" x2="589.5" y2="482.5" stroke="#111" stroke-width="0.9"/>
<rect x="589.5" y="467.5" width="2.5" height="11.7" fill="#ffffff"/>
<path d="M591.7 467.5H589.5V479.2H591.7" fill="none" stroke="#111" stroke-width="0.85"/>
<line x1="592.5" y1="479.2" x2="592.5" y2="482.5" stroke="#111" stroke-width="0.9"/>
<rect x="592.5" y="467.5" width="4.5" height="11.7" fill="#ffffff"/>
<path d="M596.7 467.5H592.5V479.2H596.7" fill="none" stroke="#111" stroke-width="1.00"/>
<line x1="598.0" y1="479.2" x2="598.0" y2="482.5" stroke="#111" stroke-width="0.9"/>
<rect x="598.0" y="467.5" width="11.0" height="11.7" fill="#ffffff"/>
<path d="M608.7 467.5H598.0V479.2H608.7" fill="none" stroke="#111" stroke-width="1.00"/>
<text x="600.0" y="477" font-size="8.2" fill="#000" stroke="#000" stroke-width="0.32" class="t" letter-spacing="0">12</text>
<line x1="610.0" y1="479.2" x2="610.0" y2="482.5" stroke="#111" stroke-width="0.9"/>
<rect x="610.0" y="467.5" width="6.0" height="11.7" fill="#ffffff"/>
<path d="M615.7 467.5H610.0V479.2H615.7" fill="none" stroke="#111" stroke-width="1.00"/>
<text x="612.0" y="477" font-size="8.2" fill="#000" stroke="#000" stroke-width="0.32" class="t" letter-spacing="0">1</text>
<line x1="617.0" y1="479.2" x2="617.0" y2="482.5" stroke="#111" stroke-width="0.9"/>
<rect x="617.0" y="467.5" width="3.0" height="11.7" fill="#ffffff"/>
<path d="M619.7 467.5H617.0V479.2H619.7" fill="none" stroke="#111" stroke-width="0.85"/>
<line x1="621.0" y1="479.2" x2="621.0" y2="482.5" stroke="#111" stroke-width="0.9"/>
<rect x="621.0" y="467.5" width="6.0" height="11.7" fill="#ffffff"/>
<path d="M626.7 467.5H621.0V479.2H626.7" fill="none" stroke="#111" stroke-width="1.00"/>
<text x="623.0" y="477" font-size="8.2" fill="#000" stroke="#000" stroke-width="0.32" class="t" letter-spacing="0">1</text>
<line x1="628.0" y1="479.2" x2="628.0" y2="482.5" stroke="#111" stroke-width="0.9"/>
<rect x="628.0" y="467.5" width="3.0" height="11.7" fill="#ffffff"/>
<path d="M630.7 467.5H628.0V479.2H630.7" fill="none" stroke="#111" stroke-width="0.85"/>
<line x1="632.0" y1="479.2" x2="632.0" y2="482.5" stroke="#111" stroke-width="0.9"/>
<polygon points="632.0,467.5 654.7,467.5 658.0,473.4 654.7,479.2 632.0,479.2" fill="#ffffff" stroke="#111" stroke-width="1"/>
<text x="634.0" y="477" font-size="8.2" fill="#000" stroke="#000" stroke-width="0.32" class="t" letter-spacing="0">21:00</text>
<line x1="636.2" y1="480.6" x2="636.2" y2="482.5" stroke="#111" stroke-width="0.9"/>
<line x1="647.4" y1="480.6" x2="647.4" y2="482.5" stroke="#111" stroke-width="0.9"/>
<line x1="651.3" y1="480.6" x2="651.3" y2="482.5" stroke="#111" stroke-width="0.9"/>
<line x1="674.0" y1="479.2" x2="674.0" y2="482.5" stroke="#111" stroke-width="0.9"/>
<rect x="674.0" y="467.5" width="3.0" height="11.7" fill="#ffffff"/>
<path d="M676.7 467.5H674.0V479.2H676.7" fill="none" stroke="#111" stroke-width="0.85"/>
<line x1="677.5" y1="479.2" x2="677.5" y2="482.5" stroke="#111" stroke-width="0.9"/>
<rect x="677.5" y="467.5" width="2.5" height="11.7" fill="#ffffff"/>
<path d="M679.7 467.5H677.5V479.2H679.7" fill="none" stroke="#111" stroke-width="0.85"/>
<line x1="680.5" y1="479.2" x2="680.5" y2="482.5" stroke="#111" stroke-width="0.9"/>
<rect x="680.5" y="467.5" width="3.5" height="11.7" fill="#ffffff"/>
<path d="M683.7 467.5H680.5V479.2H683.7" fill="none" stroke="#111" stroke-width="0.85"/>
<line x1="685.0" y1="479.2" x2="685.0" y2="482.5" stroke="#111" stroke-width="0.9"/>
<rect x="685.0" y="467.5" width="4.0" height="11.7" fill="#ffffff"/>
<path d="M688.7 467.5H685.0V479.2H688.7" fill="none" stroke="#111" stroke-width="1.00"/>
<line x1="690.0" y1="479.2" x2="690.0" y2="482.5" stroke="#111" stroke-width="0.9"/>
<rect x="690.0" y="467.5" width="11.0" height="11.7" fill="#ffffff"/>
<path d="M700.7 467.5H690.0V479.2H700.7" fill="none" stroke="#111" stroke-width="1.00"/>
<text x="692.0" y="477" font-size="8.2" fill="#000" stroke="#000" stroke-width="0.32" class="t" letter-spacing="0">12</text>
<line x1="702.0" y1="479.2" x2="702.0" y2="482.5" stroke="#111" stroke-width="0.9"/>
<rect x="702.0" y="467.5" width="3.0" height="11.7" fill="#ffffff"/>
<path d="M704.7 467.5H702.0V479.2H704.7" fill="none" stroke="#111" stroke-width="0.85"/>
<line x1="705.5" y1="479.2" x2="705.5" y2="482.5" stroke="#111" stroke-width="0.9"/>
<rect x="705.5" y="467.5" width="2.5" height="11.7" fill="#ffffff"/>
<path d="M707.7 467.5H705.5V479.2H707.7" fill="none" stroke="#111" stroke-width="0.85"/>
<line x1="709.0" y1="479.2" x2="709.0" y2="482.5" stroke="#111" stroke-width="0.9"/>
<polygon points="709.0,467.5 731.7,467.5 735.0,473.4 731.7,479.2 709.0,479.2" fill="#ffffff" stroke="#111" stroke-width="1"/>
<text x="711.0" y="477" font-size="8.2" fill="#000" stroke="#000" stroke-width="0.32" class="t" letter-spacing="0">17:30</text>
<line x1="713.2" y1="480.6" x2="713.2" y2="482.5" stroke="#111" stroke-width="0.9"/>
<line x1="724.4" y1="480.6" x2="724.4" y2="482.5" stroke="#111" stroke-width="0.9"/>
<line x1="728.3" y1="480.6" x2="728.3" y2="482.5" stroke="#111" stroke-width="0.9"/>
<line x1="739.0" y1="479.2" x2="739.0" y2="482.5" stroke="#111" stroke-width="0.9"/>
<polygon points="739.0,467.5 759.7,467.5 763.0,473.4 759.7,479.2 739.0,479.2" fill="#ffffff" stroke="#111" stroke-width="1"/>
<text x="741.0" y="477" font-size="8.2" fill="#000" stroke="#000" stroke-width="0.32" class="t" letter-spacing="0">02:00</text>
<line x1="743.2" y1="480.6" x2="743.2" y2="482.5" stroke="#111" stroke-width="0.9"/>
<line x1="754.4" y1="480.6" x2="754.4" y2="482.5" stroke="#111" stroke-width="0.9"/>
<line x1="758.3" y1="480.6" x2="758.3" y2="482.5" stroke="#111" stroke-width="0.9"/>
<line x1="773.0" y1="479.2" x2="773.0" y2="482.5" stroke="#111" stroke-width="0.9"/>
<polygon points="789.0,467.5 793.7,467.5 797.0,473.4 793.7,479.2 789.0,479.2" fill="#ffbfca" stroke="#111" stroke-width="0.9"/>
<polygon points="773.0,467.5 791.0,467.5 794.3,473.4 791.0,479.2 773.0,479.2" fill="#ffbfca" stroke="#111" stroke-width="1"/>
<text x="775.0" y="477" font-size="8.2" fill="#000" stroke="#000" stroke-width="0.32" class="t" letter-spacing="0">11:08</text>
<line x1="777.2" y1="480.6" x2="777.2" y2="482.5" stroke="#111" stroke-width="0.9"/>
<line x1="788.4" y1="480.6" x2="788.4" y2="482.5" stroke="#111" stroke-width="0.9"/>
<line x1="792.3" y1="480.6" x2="792.3" y2="482.5" stroke="#111" stroke-width="0.9"/>
<line x1="800.0" y1="479.2" x2="800.0" y2="482.5" stroke="#111" stroke-width="0.9"/>
<polygon points="800.0,467.5 821.7,467.5 825.0,473.4 821.7,479.2 800.0,479.2" fill="#b4f1f1" stroke="#111" stroke-width="1"/>
<text x="802.0" y="477" font-size="8.2" fill="#000" stroke="#000" stroke-width="0.32" class="t" letter-spacing="0">18:30</text>
<line x1="804.2" y1="480.6" x2="804.2" y2="482.5" stroke="#111" stroke-width="0.9"/>
<line x1="815.4" y1="480.6" x2="815.4" y2="482.5" stroke="#111" stroke-width="0.9"/>
<line x1="819.3" y1="480.6" x2="819.3" y2="482.5" stroke="#111" stroke-width="0.9"/>
<line x1="853.0" y1="479.2" x2="853.0" y2="482.5" stroke="#111" stroke-width="0.9"/>
<rect x="853.0" y="467.5" width="13.0" height="11.7" fill="#ffffff"/>
<path d="M865.7 467.5H853.0V479.2H865.7" fill="none" stroke="#111" stroke-width="1.00"/>
<text x="855.0" y="477" font-size="8.2" fill="#000" stroke="#000" stroke-width="0.32" class="t" letter-spacing="0">08:</text>
<line x1="868.0" y1="479.2" x2="868.0" y2="482.5" stroke="#111" stroke-width="0.9"/>
<rect x="868.0" y="467.5" width="12.0" height="11.7" fill="#ffffff"/>
<path d="M879.7 467.5H868.0V479.2H879.7" fill="none" stroke="#111" stroke-width="1.00"/>
<text x="870.0" y="477" font-size="8.2" fill="#000" stroke="#000" stroke-width="0.32" class="t" letter-spacing="0">12</text>
<line x1="881.0" y1="479.2" x2="881.0" y2="482.5" stroke="#111" stroke-width="0.9"/>
<rect x="881.0" y="467.5" width="5.0" height="11.7" fill="#ffffff"/>
<path d="M885.7 467.5H881.0V479.2H885.7" fill="none" stroke="#111" stroke-width="1.00"/>
<text x="883.0" y="477" font-size="8.2" fill="#000" stroke="#000" stroke-width="0.32" class="t" letter-spacing="0">1</text>
<line x1="887.0" y1="479.2" x2="887.0" y2="482.5" stroke="#111" stroke-width="0.9"/>
<rect x="887.0" y="467.5" width="5.0" height="11.7" fill="#ffffff"/>
<path d="M891.7 467.5H887.0V479.2H891.7" fill="none" stroke="#111" stroke-width="1.00"/>
<text x="889.0" y="477" font-size="8.2" fill="#000" stroke="#000" stroke-width="0.32" class="t" letter-spacing="0">1</text>
<line x1="893.0" y1="479.2" x2="893.0" y2="482.5" stroke="#111" stroke-width="0.9"/>
<rect x="893.0" y="467.5" width="7.0" height="11.7" fill="#ffffff"/>
<path d="M899.7 467.5H893.0V479.2H899.7" fill="none" stroke="#111" stroke-width="1.00"/>
<text x="895.0" y="477" font-size="8.2" fill="#000" stroke="#000" stroke-width="0.32" class="t" letter-spacing="0">1</text>
<line x1="901.0" y1="479.2" x2="901.0" y2="482.5" stroke="#111" stroke-width="0.9"/>
<rect x="901.0" y="467.5" width="10.0" height="11.7" fill="#ffffff"/>
<path d="M910.7 467.5H901.0V479.2H910.7" fill="none" stroke="#111" stroke-width="1.00"/>
<text x="903.0" y="477" font-size="8.2" fill="#000" stroke="#000" stroke-width="0.32" class="t" letter-spacing="0">20</text>
<line x1="911.0" y1="479.2" x2="911.0" y2="482.5" stroke="#111" stroke-width="0.9"/>
<polygon points="911.0,467.5 931.7,467.5 935.0,473.4 931.7,479.2 911.0,479.2" fill="#ffffff" stroke="#111" stroke-width="1"/>
<text x="913.0" y="477" font-size="8.2" fill="#000" stroke="#000" stroke-width="0.32" class="t" letter-spacing="0">23:00</text>
<line x1="915.2" y1="480.6" x2="915.2" y2="482.5" stroke="#111" stroke-width="0.9"/>
<line x1="926.4" y1="480.6" x2="926.4" y2="482.5" stroke="#111" stroke-width="0.9"/>
<line x1="930.3" y1="480.6" x2="930.3" y2="482.5" stroke="#111" stroke-width="0.9"/>
<line x1="956.5" y1="32.6" x2="959.8" y2="32.6" stroke="#000" stroke-width="1"/>
<text x="962.6" y="36.0" font-size="8.0" fill="#000" stroke="#000" stroke-width="0.30" class="t" text-anchor="start" letter-spacing="0.00">1.2575</text>
<line x1="956.5" y1="63.1" x2="959.8" y2="63.1" stroke="#000" stroke-width="1"/>
<text x="962.6" y="67.0" font-size="8.0" fill="#000" stroke="#000" stroke-width="0.30" class="t" text-anchor="start" letter-spacing="0.00">1.2560</text>
<line x1="956.5" y1="91.9" x2="959.8" y2="91.9" stroke="#000" stroke-width="1"/>
<text x="962.6" y="96.0" font-size="8.0" fill="#000" stroke="#000" stroke-width="0.30" class="t" text-anchor="start" letter-spacing="0.00">1.2545</text>
<line x1="956.5" y1="122.7" x2="959.8" y2="122.7" stroke="#000" stroke-width="1"/>
<text x="962.6" y="126.0" font-size="8.0" fill="#000" stroke="#000" stroke-width="0.30" class="t" text-anchor="start" letter-spacing="0.00">1.2530</text>
<line x1="956.5" y1="153.3" x2="959.8" y2="153.3" stroke="#000" stroke-width="1"/>
<text x="962.6" y="157.0" font-size="8.0" fill="#000" stroke="#000" stroke-width="0.30" class="t" text-anchor="start" letter-spacing="0.00">1.2515</text>
<line x1="956.5" y1="182.5" x2="959.8" y2="182.5" stroke="#000" stroke-width="1"/>
<text x="962.6" y="186.0" font-size="8.0" fill="#000" stroke="#000" stroke-width="0.30" class="t" text-anchor="start" letter-spacing="0.00">1.2500</text>
<line x1="956.5" y1="212.9" x2="959.8" y2="212.9" stroke="#000" stroke-width="1"/>
<text x="962.6" y="217.0" font-size="8.0" fill="#000" stroke="#000" stroke-width="0.30" class="t" text-anchor="start" letter-spacing="0.00">1.2485</text>
<line x1="956.5" y1="242.1" x2="959.8" y2="242.1" stroke="#000" stroke-width="1"/>
<text x="962.6" y="246.0" font-size="8.0" fill="#000" stroke="#000" stroke-width="0.30" class="t" text-anchor="start" letter-spacing="0.00">1.2470</text>
<line x1="956.5" y1="273.0" x2="959.8" y2="273.0" stroke="#000" stroke-width="1"/>
<text x="962.6" y="277.0" font-size="8.0" fill="#000" stroke="#000" stroke-width="0.30" class="t" text-anchor="start" letter-spacing="0.00">1.2455</text>
<line x1="956.5" y1="302.9" x2="959.8" y2="302.9" stroke="#000" stroke-width="1"/>
<text x="962.6" y="307.0" font-size="8.0" fill="#000" stroke="#000" stroke-width="0.30" class="t" text-anchor="start" letter-spacing="0.00">1.2440</text>
<line x1="956.5" y1="332.6" x2="959.8" y2="332.6" stroke="#000" stroke-width="1"/>
<text x="962.6" y="336.0" font-size="8.0" fill="#000" stroke="#000" stroke-width="0.30" class="t" text-anchor="start" letter-spacing="0.00">1.2425</text>
<line x1="956.5" y1="363.0" x2="959.8" y2="363.0" stroke="#000" stroke-width="1"/>
<text x="962.6" y="367.0" font-size="8.0" fill="#000" stroke="#000" stroke-width="0.30" class="t" text-anchor="start" letter-spacing="0.00">1.2410</text>
<line x1="956.5" y1="393.5" x2="959.8" y2="393.5" stroke="#000" stroke-width="1"/>
<text x="962.6" y="397.0" font-size="8.0" fill="#000" stroke="#000" stroke-width="0.30" class="t" text-anchor="start" letter-spacing="0.00">1.2395</text>
<line x1="956.5" y1="423.1" x2="959.8" y2="423.1" stroke="#000" stroke-width="1"/>
<text x="962.6" y="427.0" font-size="8.0" fill="#000" stroke="#000" stroke-width="0.30" class="t" text-anchor="start" letter-spacing="0.00">1.2380</text>
<line x1="956.5" y1="453.3" x2="959.8" y2="453.3" stroke="#000" stroke-width="1"/>
<text x="962.6" y="457.0" font-size="8.0" fill="#000" stroke="#000" stroke-width="0.30" class="t" text-anchor="start" letter-spacing="0.00">1.2365</text>
<rect x="959.1" y="22.8" width="32.7" height="9.9" fill="#ff0000"/>
<text x="962.6" y="31.0" font-size="8.0" fill="#fff" stroke="#fff" stroke-width="0.30" class="t" text-anchor="start" letter-spacing="0.00">1.2577</text>
<rect x="959.1" y="160.5" width="30.8" height="10.1" fill="#ff0000"/>
<text x="962.6" y="169.0" font-size="8.0" fill="#fff" stroke="#fff" stroke-width="0.30" class="t" text-anchor="start" letter-spacing="0.00">1.2508</text>
<rect x="959.1" y="290.7" width="32.0" height="9.7" fill="#ff0000"/>
<text x="962.6" y="299.0" font-size="8.0" fill="#fff" stroke="#fff" stroke-width="0.30" class="t" text-anchor="start" letter-spacing="0.00">1.2443</text>
<rect x="959.1" y="379.1" width="30.8" height="9.8" fill="#ff0000"/>
<text x="962.6" y="387.0" font-size="8.0" fill="#fff" stroke="#fff" stroke-width="0.30" class="t" text-anchor="start" letter-spacing="0.00">1.2399</text>
<rect x="959.1" y="449.3" width="31.2" height="9.5" fill="#ff0000"/>
<text x="962.6" y="457.0" font-size="8.0" fill="#fff" stroke="#fff" stroke-width="0.30" class="t" text-anchor="start" letter-spacing="0.00">1.2364</text>
<rect x="959.1" y="229.9" width="32.0" height="9.8" fill="#c0c0c0"/>
<text x="962.6" y="238.0" font-size="8.0" fill="#fff" stroke="#fff" stroke-width="0.30" class="t" text-anchor="start" letter-spacing="0.00">1.2474</text>
<text x="962.4" y="493.0" font-size="8.0" fill="#000" stroke="#000" stroke-width="0.30" class="t" text-anchor="start" letter-spacing="0.00">0.00309</text>
<text x="962.4" y="514.0" font-size="8.0" fill="#000" stroke="#000" stroke-width="0.30" class="t" text-anchor="start" letter-spacing="0.00">0.00000</text>
<text x="960.9" y="545.0" font-size="8.0" fill="#000" stroke="#000" stroke-width="0.30" class="t" text-anchor="start" letter-spacing="0.00">-0.00394</text>
<text x="7.0" y="12.0" font-size="8.0" fill="#000" stroke="#000" stroke-width="0.18" class="t" text-anchor="start" letter-spacing="0.00">EURUSD,H1</text>
<rect x="4" y="485.6" width="127.5" height="12.3" fill="#fff"/>
<text x="6.4" y="497.0" font-size="8.0" fill="#000" stroke="#000" stroke-width="0.30" class="t" text-anchor="start" letter-spacing="0.00">MACD(12,26,9) -0.00072 -0.00118</text>
<text x="6.1" y="543.0" font-size="8.0" fill="#000" stroke="#000" stroke-width="0.30" class="t" text-anchor="start" letter-spacing="0.30">MetaTrader 5, &#169; 2001-2014, MetaQuotes Software Corp.</text>
<line x1="2.4" y1="547.4" x2="2.4" y2="550.8" stroke="#000" stroke-width="1"/>
<text x="1.2" y="559.0" font-size="8.0" fill="#000" stroke="#000" stroke-width="0.30" class="t" text-anchor="start" letter-spacing="0.10">4 Nov 2014</text>
<line x1="63.2" y1="547.4" x2="63.2" y2="550.8" stroke="#000" stroke-width="1"/>
<text x="63.5" y="559.0" font-size="8.0" fill="#000" stroke="#000" stroke-width="0.30" class="t" text-anchor="start" letter-spacing="0.10">5 Nov 14:00</text>
<line x1="124.0" y1="547.4" x2="124.0" y2="550.8" stroke="#000" stroke-width="1"/>
<text x="124.3" y="559.0" font-size="8.0" fill="#000" stroke="#000" stroke-width="0.30" class="t" text-anchor="start" letter-spacing="0.10">6 Nov 06:00</text>
<line x1="184.7" y1="547.4" x2="184.7" y2="550.8" stroke="#000" stroke-width="1"/>
<text x="185.0" y="559.0" font-size="8.0" fill="#000" stroke="#000" stroke-width="0.30" class="t" text-anchor="start" letter-spacing="0.10">6 Nov 22:00</text>
<line x1="245.5" y1="547.4" x2="245.5" y2="550.8" stroke="#000" stroke-width="1"/>
<text x="245.8" y="559.0" font-size="8.0" fill="#000" stroke="#000" stroke-width="0.30" class="t" text-anchor="start" letter-spacing="0.10">7 Nov 14:00</text>
<line x1="306.3" y1="547.4" x2="306.3" y2="550.8" stroke="#000" stroke-width="1"/>
<text x="306.6" y="559.0" font-size="8.0" fill="#000" stroke="#000" stroke-width="0.30" class="t" text-anchor="start" letter-spacing="0.10">10 Nov 07:00</text>
<line x1="367.0" y1="547.4" x2="367.0" y2="550.8" stroke="#000" stroke-width="1"/>
<text x="367.3" y="559.0" font-size="8.0" fill="#000" stroke="#000" stroke-width="0.30" class="t" text-anchor="start" letter-spacing="0.10">10 Nov 23:00</text>
<line x1="427.8" y1="547.4" x2="427.8" y2="550.8" stroke="#000" stroke-width="1"/>
<text x="428.1" y="559.0" font-size="8.0" fill="#000" stroke="#000" stroke-width="0.30" class="t" text-anchor="start" letter-spacing="0.10">11 Nov 15:00</text>
<line x1="488.6" y1="547.4" x2="488.6" y2="550.8" stroke="#000" stroke-width="1"/>
<text x="488.9" y="559.0" font-size="8.0" fill="#000" stroke="#000" stroke-width="0.30" class="t" text-anchor="start" letter-spacing="0.10">12 Nov 07:00</text>
<line x1="549.4" y1="547.4" x2="549.4" y2="550.8" stroke="#000" stroke-width="1"/>
<text x="549.7" y="559.0" font-size="8.0" fill="#000" stroke="#000" stroke-width="0.30" class="t" text-anchor="start" letter-spacing="0.10">12 Nov 23:00</text>
<line x1="610.2" y1="547.4" x2="610.2" y2="550.8" stroke="#000" stroke-width="1"/>
<text x="610.5" y="559.0" font-size="8.0" fill="#000" stroke="#000" stroke-width="0.30" class="t" text-anchor="start" letter-spacing="0.10">13 Nov 15:00</text>
<line x1="670.9" y1="547.4" x2="670.9" y2="550.8" stroke="#000" stroke-width="1"/>
<text x="671.2" y="559.0" font-size="8.0" fill="#000" stroke="#000" stroke-width="0.30" class="t" text-anchor="start" letter-spacing="0.10">14 Nov 07:00</text>
<line x1="731.7" y1="547.4" x2="731.7" y2="550.8" stroke="#000" stroke-width="1"/>
<text x="732.0" y="559.0" font-size="8.0" fill="#000" stroke="#000" stroke-width="0.30" class="t" text-anchor="start" letter-spacing="0.10">17 Nov 00:00</text>
<line x1="792.5" y1="547.4" x2="792.5" y2="550.8" stroke="#000" stroke-width="1"/>
<text x="792.8" y="559.0" font-size="8.0" fill="#000" stroke="#000" stroke-width="0.30" class="t" text-anchor="start" letter-spacing="0.10">17 Nov 16:00</text>
</svg>
</body></html>
